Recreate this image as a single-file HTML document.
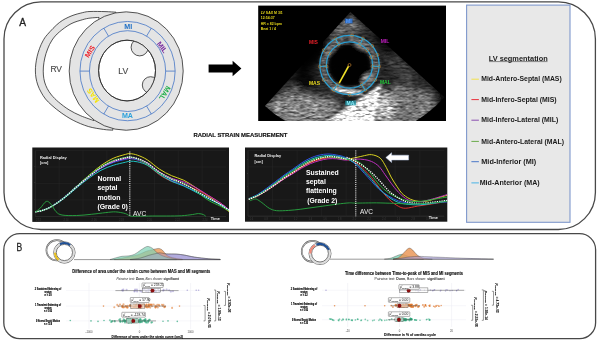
<!DOCTYPE html>
<html><head><meta charset="utf-8"><title>Figure</title>
<style>
html,body{margin:0;padding:0;background:#fff;}
body{width:597px;height:341px;overflow:hidden;font-family:"Liberation Sans",sans-serif;}
svg{display:block;}
svg text{font-family:"Liberation Sans",sans-serif;}
</style></head><body>
<svg width="597" height="341" viewBox="0 0 597 341">
<rect x="0" y="0" width="597" height="341" fill="#fff"/>
<rect x="4" y="1.9" width="591.4" height="227.6" rx="37" ry="37" fill="#fff" stroke="#484848" stroke-width="1.3"/>
<rect x="3.8" y="233.7" width="591.8" height="105.0" rx="16" ry="16" fill="#fff" stroke="#484848" stroke-width="1.3"/>
<text x="19.3" y="25.6" font-size="10.5" fill="#222" font-weight="normal" text-anchor="start" textLength="6.8" lengthAdjust="spacingAndGlyphs" stroke="#222" stroke-width="0.3">A</text>
<text x="16.4" y="250.8" font-size="11.0" fill="#222" font-weight="normal" text-anchor="start" textLength="5.7" lengthAdjust="spacingAndGlyphs" stroke="#222" stroke-width="0.3">B</text>
<path d="M116.00,12.20 C114.17,12.10 109.33,11.72 105.00,11.60 C100.67,11.48 93.71,11.33 90.00,11.50 C86.29,11.67 85.92,11.83 82.75,12.60 C79.58,13.37 74.91,14.43 71.00,16.10 C67.09,17.77 63.20,19.57 59.30,22.60 C55.40,25.63 50.32,31.27 47.60,34.30 C44.88,37.33 44.33,38.47 43.00,40.80 C41.67,43.13 40.57,45.73 39.60,48.30 C38.63,50.87 37.83,53.58 37.20,56.20 C36.57,58.82 36.10,61.53 35.80,64.00 C35.50,66.47 35.37,68.67 35.40,71.00 C35.43,73.33 35.60,75.67 36.00,78.00 C36.40,80.33 36.97,82.67 37.80,85.00 C38.63,87.33 39.72,89.67 41.00,92.00 C42.28,94.33 43.67,96.75 45.50,99.00 C47.33,101.25 49.38,103.20 52.00,105.50 C54.62,107.80 57.67,110.33 61.20,112.80 C64.73,115.27 68.68,118.02 73.20,120.30 C77.72,122.58 83.27,124.98 88.30,126.50 C93.33,128.02 99.32,128.78 103.40,129.40 C107.48,130.02 111.23,130.07 112.80,130.20 Z" fill="#e4e4e4" stroke="#2b2b2b" stroke-width="0.8"/>
<path d="M99.00,17.40 C97.50,17.52 92.71,17.73 90.00,18.10 C87.29,18.48 85.92,18.70 82.75,19.65 C79.58,20.60 74.91,21.74 71.00,23.80 C67.09,25.86 62.45,29.30 59.30,32.00 C56.15,34.70 54.05,37.17 52.10,40.00 C50.15,42.83 48.82,46.00 47.60,49.00 C46.38,52.00 45.50,55.00 44.80,58.00 C44.10,61.00 43.63,64.17 43.40,67.00 C43.17,69.83 43.20,72.50 43.40,75.00 C43.60,77.50 43.97,79.75 44.60,82.00 C45.23,84.25 46.05,86.33 47.20,88.50 C48.35,90.67 49.62,92.75 51.50,95.00 C53.38,97.25 55.58,99.53 58.50,102.00 C61.42,104.47 65.28,107.50 69.00,109.80 C72.72,112.10 76.63,114.00 80.80,115.80 C84.97,117.60 91.80,119.80 94.00,120.60 Z" fill="#fff" stroke="#2b2b2b" stroke-width="0.8"/>
<ellipse cx="126.2" cy="71.05" rx="57" ry="59.2" fill="#e4e4e4" stroke="#2b2b2b" stroke-width="0.8"/>
<ellipse cx="127.05" cy="70.55" rx="28.45" ry="30.35" fill="#fff" stroke="#2b2b2b" stroke-width="0.8"/>
<clipPath id="lvc"><ellipse cx="127.05" cy="70.55" rx="28.45" ry="30.35"/></clipPath>
<g clip-path="url(#lvc)"><circle cx="139.7" cy="47.3" r="8.6" fill="#e4e4e4" stroke="#2b2b2b" stroke-width="0.8"/><circle cx="150.6" cy="85.0" r="8.3" fill="#e4e4e4" stroke="#2b2b2b" stroke-width="0.8"/></g>
<ellipse cx="127.05" cy="70.55" rx="28.45" ry="30.35" fill="none" stroke="#2b2b2b" stroke-width="0.8"/>
<ellipse cx="127.55" cy="71.1" rx="47.6" ry="49.65" fill="none" stroke="#3b6fc4" stroke-width="0.75"/>
<ellipse cx="127.55" cy="71.1" rx="38.1" ry="40.4" fill="none" stroke="#3b6fc4" stroke-width="0.75"/>
<line x1="165.65" y1="71.10" x2="175.15" y2="71.10" stroke="#3b6fc4" stroke-width="0.75"/>
<line x1="146.60" y1="36.11" x2="151.35" y2="28.10" stroke="#3b6fc4" stroke-width="0.75"/>
<line x1="108.50" y1="36.11" x2="103.75" y2="28.10" stroke="#3b6fc4" stroke-width="0.75"/>
<line x1="89.45" y1="71.10" x2="79.95" y2="71.10" stroke="#3b6fc4" stroke-width="0.75"/>
<line x1="108.50" y1="106.09" x2="103.75" y2="114.10" stroke="#3b6fc4" stroke-width="0.75"/>
<line x1="146.60" y1="106.09" x2="151.35" y2="114.10" stroke="#3b6fc4" stroke-width="0.75"/>
<text transform="translate(128.3,26.9) rotate(0)" font-size="7.1" font-weight="bold" fill="#1f6fc5" text-anchor="middle" dominant-baseline="central">MI</text>
<text transform="translate(127.4,115.6) rotate(0)" font-size="7.1" font-weight="bold" fill="#2aa0dc" text-anchor="middle" dominant-baseline="central">MA</text>
<text transform="translate(90.3,51.8) rotate(-56)" font-size="7.1" font-weight="bold" fill="#ee1c25" text-anchor="middle" dominant-baseline="central">MIS</text>
<text transform="translate(161.8,47.6) rotate(52)" font-size="7.1" font-weight="bold" fill="#7a2fa0" text-anchor="middle" dominant-baseline="central">MIL</text>
<text transform="translate(164.4,92.8) rotate(122)" font-size="7.1" font-weight="bold" fill="#21b04b" text-anchor="middle" dominant-baseline="central">MAL</text>
<text transform="translate(93.4,95.2) rotate(-126)" font-size="7.1" font-weight="bold" fill="#f4e500" text-anchor="middle" dominant-baseline="central">MAS</text>
<text x="50.4" y="72.4" font-size="9.8" fill="#484848" font-weight="normal" text-anchor="start" textLength="11.6" lengthAdjust="spacingAndGlyphs" stroke="#484848" stroke-width="0.15">RV</text>
<text x="118.3" y="73.5" font-size="9.8" fill="#484848" font-weight="normal" text-anchor="start" textLength="9.9" lengthAdjust="spacingAndGlyphs" stroke="#484848" stroke-width="0.15">LV</text>
<path d="M208.6,64.6 H232.6 V60.7 L241.4,68.5 L232.6,76.3 V72.6 H208.6 Z" fill="#000"/>
<text x="240.5" y="137.2" font-size="6.0" fill="#111" font-weight="bold" text-anchor="middle" textLength="94" lengthAdjust="spacingAndGlyphs" stroke="#111" stroke-width="0.15">RADIAL STRAIN MEASUREMENT</text>
<rect x="466.6" y="5.1" width="103.4" height="217.2" fill="#e8e8e8" stroke="#7f98cc" stroke-width="1.1"/>
<text x="518.2" y="60.5" font-size="7.2" fill="#222" font-weight="bold" text-anchor="middle" textLength="59" lengthAdjust="spacingAndGlyphs" >LV segmentation</text>
<line x1="489" y1="61.6" x2="547.5" y2="61.6" stroke="#222" stroke-width="0.5"/>
<line x1="471.4" y1="79.2" x2="478.9" y2="79.2" stroke="#f2e14a" stroke-width="1.0"/>
<text x="481.2" y="81.3" font-size="6.6" fill="#1a1a1a" font-weight="bold" text-anchor="start" textLength="80.5" lengthAdjust="spacingAndGlyphs" >Mid-Antero-Septal (MAS)</text>
<line x1="471.4" y1="99.60000000000001" x2="478.9" y2="99.60000000000001" stroke="#e8323c" stroke-width="1.0"/>
<text x="481.2" y="101.7" font-size="6.6" fill="#1a1a1a" font-weight="bold" text-anchor="start" textLength="75.5" lengthAdjust="spacingAndGlyphs" >Mid-Infero-Septal (MIS)</text>
<line x1="471.4" y1="120.2" x2="478.9" y2="120.2" stroke="#8a4fb0" stroke-width="1.0"/>
<text x="481.3" y="122.3" font-size="6.6" fill="#1a1a1a" font-weight="bold" text-anchor="start" textLength="77" lengthAdjust="spacingAndGlyphs" >Mid-Infero-Lateral (MIL)</text>
<line x1="471.4" y1="141.4" x2="478.9" y2="141.4" stroke="#6aaa4a" stroke-width="1.0"/>
<text x="481.3" y="143.5" font-size="6.6" fill="#1a1a1a" font-weight="bold" text-anchor="start" textLength="82.8" lengthAdjust="spacingAndGlyphs" >Mid-Antero-Lateral (MAL)</text>
<line x1="471.4" y1="161.70000000000002" x2="478.9" y2="161.70000000000002" stroke="#4a78c8" stroke-width="1.0"/>
<text x="481.3" y="163.8" font-size="6.6" fill="#1a1a1a" font-weight="bold" text-anchor="start" textLength="55" lengthAdjust="spacingAndGlyphs" >Mid-Inferior (MI)</text>
<line x1="471.4" y1="182.9" x2="478.9" y2="182.9" stroke="#49b4e6" stroke-width="1.0"/>
<text x="479.7" y="185.0" font-size="6.6" fill="#1a1a1a" font-weight="bold" text-anchor="start" textLength="60" lengthAdjust="spacingAndGlyphs" >Mid-Anterior (MA)</text>
<rect x="258.2" y="5.6" width="187.8" height="115.4" fill="#000"/>
<defs>
<clipPath id="usrect"><rect x="258.2" y="5.6" width="187.8" height="115.4"/></clipPath>
<clipPath id="sector"><path d="M350.4,12.0 L264.9,105.9 A127,127 0 0 0 444.5,97.3 Z"/></clipPath>
<filter id="speckle" x="0" y="0" width="100%" height="100%" filterUnits="objectBoundingBox" color-interpolation-filters="sRGB">
<feTurbulence type="fractalNoise" baseFrequency="0.16 0.5" numOctaves="2" seed="11" result="n"/>
<feColorMatrix in="n" type="matrix" values="1.0 1.0 1.0 0 -1.0  1.0 1.0 1.0 0 -1.0  1.0 1.0 1.0 0 -1.0  0 0 0 0 1" result="g"/>
<feComposite in="SourceGraphic" in2="g" operator="arithmetic" k1="1.0" k2="0.5" k3="0" k4="0"/>
</filter>
<filter id="b2"><feGaussianBlur stdDeviation="1.6"/></filter>
<filter id="b3"><feGaussianBlur stdDeviation="3.5"/></filter>
<filter id="b1"><feGaussianBlur stdDeviation="0.9"/></filter>
</defs>
<g clip-path="url(#usrect)"><g clip-path="url(#sector)">
<g filter="url(#speckle)">
<rect x="258.2" y="5.6" width="187.8" height="115.4" fill="#262626"/>
<g filter="url(#b3)">
<ellipse cx="347" cy="27" rx="15" ry="8" fill="#707070" opacity="0.9"/>
<ellipse cx="335" cy="36" rx="5" ry="14" fill="#5a5a5a" opacity="0.8" transform="rotate(42 335 36)"/>
<path d="M262,106 L296,93 L332,98 L344,106 L322,124 L286,124 Z" fill="#8c8c8c" opacity="0.95"/>
<ellipse cx="283" cy="97" rx="20" ry="4" fill="#808080" opacity="0.7" transform="rotate(-35 283 97)"/>
<path d="M378,98 L396,84 L432,92 L438,124 L374,124 Z" fill="#787878" opacity="0.95"/>
<ellipse cx="402" cy="70" rx="18" ry="7" fill="#4a4a4a" opacity="0.7" transform="rotate(45 402 70)"/>
<ellipse cx="384" cy="108" rx="9" ry="16" fill="#d8d8d8" opacity="0.8"/>
<ellipse cx="313" cy="54" rx="10" ry="24" fill="#000" opacity="0.97" transform="rotate(40 313 54)"/>
<ellipse cx="304" cy="80" rx="13" ry="9" fill="#000" opacity="0.8"/>
<ellipse cx="386" cy="44" rx="7" ry="16" fill="#000" opacity="0.7" transform="rotate(-42 386 44)"/>
<ellipse cx="443" cy="104" rx="7" ry="22" fill="#000" opacity="0.85" transform="rotate(-25 443 104)"/>
<ellipse cx="350" cy="101" rx="16" ry="4" fill="#000" opacity="0.55" transform="rotate(-12 350 101)"/>
</g>
<g filter="url(#b2)">
<path d="M382,84 L346,108 L324,123 L374,123 L378,100 Z" fill="#fff" opacity="0.97"/>
<circle cx="349.5" cy="65" r="26.5" fill="none" stroke="#707070" stroke-width="6" opacity="0.7"/>
<circle cx="349.5" cy="65.5" r="21" fill="#000" opacity="0.97"/>
<ellipse cx="347" cy="91.5" rx="17" ry="2.4" fill="#f0f0f0" opacity="0.9" transform="rotate(10 347 91.5)"/>
<ellipse cx="367" cy="78" rx="7" ry="4" fill="#999" opacity="0.8" transform="rotate(-40 367 78)"/>
<ellipse cx="361" cy="46" rx="8" ry="3.5" fill="#888" opacity="0.7" transform="rotate(25 361 46)"/>
<ellipse cx="331" cy="50" rx="3" ry="9" fill="#777" opacity="0.6" transform="rotate(40 331 50)"/>
</g>
</g>
</g></g>
<circle cx="349.5" cy="65.0" r="29.7" fill="none" stroke="#2a9fd3" stroke-width="1.25"/>
<circle cx="349.5" cy="65.0" r="23.1" fill="none" stroke="#2a9fd3" stroke-width="1.25"/>
<line x1="359.99" y1="44.42" x2="362.98" y2="38.54" stroke="#2a9fd3" stroke-width="1.25"/>
<line x1="372.57" y1="66.21" x2="379.16" y2="66.55" stroke="#2a9fd3" stroke-width="1.25"/>
<line x1="361.74" y1="84.59" x2="365.24" y2="90.19" stroke="#2a9fd3" stroke-width="1.25"/>
<line x1="337.26" y1="84.59" x2="333.76" y2="90.19" stroke="#2a9fd3" stroke-width="1.25"/>
<line x1="326.43" y1="66.21" x2="319.84" y2="66.55" stroke="#2a9fd3" stroke-width="1.25"/>
<line x1="338.66" y1="44.60" x2="335.56" y2="38.78" stroke="#2a9fd3" stroke-width="1.25"/>
<circle cx="352.09" cy="35.41" r="1.45" fill="none" stroke="#d0903a" stroke-width="0.55"/>
<circle cx="362.98" cy="38.54" r="1.45" fill="none" stroke="#d0903a" stroke-width="0.55"/>
<circle cx="359.99" cy="44.42" r="1.45" fill="none" stroke="#d0903a" stroke-width="0.55"/>
<circle cx="372.25" cy="45.91" r="1.45" fill="none" stroke="#d0903a" stroke-width="0.55"/>
<circle cx="367.20" cy="50.15" r="1.45" fill="none" stroke="#d0903a" stroke-width="0.55"/>
<circle cx="377.41" cy="54.84" r="1.45" fill="none" stroke="#d0903a" stroke-width="0.55"/>
<circle cx="371.21" cy="57.10" r="1.45" fill="none" stroke="#d0903a" stroke-width="0.55"/>
<circle cx="379.16" cy="66.55" r="1.45" fill="none" stroke="#d0903a" stroke-width="0.55"/>
<circle cx="372.57" cy="66.21" r="1.45" fill="none" stroke="#d0903a" stroke-width="0.55"/>
<circle cx="375.22" cy="79.85" r="1.45" fill="none" stroke="#d0903a" stroke-width="0.55"/>
<circle cx="365.24" cy="90.19" r="1.45" fill="none" stroke="#d0903a" stroke-width="0.55"/>
<circle cx="361.74" cy="84.59" r="1.45" fill="none" stroke="#d0903a" stroke-width="0.55"/>
<circle cx="349.50" cy="94.70" r="1.45" fill="none" stroke="#d0903a" stroke-width="0.55"/>
<circle cx="333.76" cy="90.19" r="1.45" fill="none" stroke="#d0903a" stroke-width="0.55"/>
<circle cx="337.26" cy="84.59" r="1.45" fill="none" stroke="#d0903a" stroke-width="0.55"/>
<circle cx="323.78" cy="79.85" r="1.45" fill="none" stroke="#d0903a" stroke-width="0.55"/>
<circle cx="319.84" cy="66.55" r="1.45" fill="none" stroke="#d0903a" stroke-width="0.55"/>
<circle cx="326.43" cy="66.21" r="1.45" fill="none" stroke="#d0903a" stroke-width="0.55"/>
<circle cx="323.78" cy="50.15" r="1.45" fill="none" stroke="#d0903a" stroke-width="0.55"/>
<circle cx="329.49" cy="53.45" r="1.45" fill="none" stroke="#d0903a" stroke-width="0.55"/>
<circle cx="335.56" cy="38.78" r="1.45" fill="none" stroke="#d0903a" stroke-width="0.55"/>
<circle cx="338.66" cy="44.60" r="1.45" fill="none" stroke="#d0903a" stroke-width="0.55"/>
<line x1="349.2" y1="65.0" x2="339.2" y2="83.2" stroke="#efe02a" stroke-width="1.6"/>
<circle cx="349.5" cy="65.0" r="1.5" fill="#000" stroke="#d08a30" stroke-width="0.6"/>
<text x="313.5" y="44.2" font-size="5.0" fill="#e8202a" font-weight="bold" text-anchor="middle" >MIS</text>
<text x="385.0" y="42.6" font-size="5.0" fill="#c31fc3" font-weight="bold" text-anchor="middle" >MIL</text>
<text x="314.5" y="85.0" font-size="5.0" fill="#e8d820" font-weight="bold" text-anchor="middle" >MAS</text>
<text x="385.3" y="83.5" font-size="5.0" fill="#25c43a" font-weight="bold" text-anchor="middle" >MAL</text>
<rect x="345.2" y="100.6" width="10.8" height="4.8" fill="#1a8fa0" opacity="0.75"/>
<text x="350.5" y="104.8" font-size="5.0" fill="#8ff0ff" font-weight="bold" text-anchor="middle" >MA</text>
<rect x="345.0" y="18.6" width="7.6" height="4.8" fill="#1a5fc0" opacity="0.8"/>
<text x="348.8" y="22.8" font-size="5.0" fill="#5aa0ff" font-weight="bold" text-anchor="middle" >MI</text>
<text x="260.7" y="13.9" font-size="3.5" fill="#e6d81a" font-weight="bold" text-anchor="start" >LV SAX M 3/1</text>
<text x="260.7" y="19.25" font-size="3.5" fill="#e6d81a" font-weight="bold" text-anchor="start" >12:54:37</text>
<text x="260.7" y="24.6" font-size="3.5" fill="#e6d81a" font-weight="bold" text-anchor="start" >HR = 82 bpm</text>
<text x="260.7" y="29.949999999999996" font-size="3.5" fill="#e6d81a" font-weight="bold" text-anchor="start" >Beat 1 / 4</text>
<rect x="32.3" y="147.5" width="196.7" height="74.4" fill="#181818"/>
<line x1="59.1" y1="150.5" x2="59.1" y2="216.4" stroke="#2c2c2c" stroke-width="0.4"/>
<line x1="83.0" y1="150.5" x2="83.0" y2="216.4" stroke="#2c2c2c" stroke-width="0.4"/>
<line x1="106.8" y1="150.5" x2="106.8" y2="216.4" stroke="#2c2c2c" stroke-width="0.4"/>
<line x1="130.6" y1="150.5" x2="130.6" y2="216.4" stroke="#2c2c2c" stroke-width="0.4"/>
<line x1="154.5" y1="150.5" x2="154.5" y2="216.4" stroke="#2c2c2c" stroke-width="0.4"/>
<line x1="178.3" y1="150.5" x2="178.3" y2="216.4" stroke="#2c2c2c" stroke-width="0.4"/>
<line x1="202.2" y1="150.5" x2="202.2" y2="216.4" stroke="#2c2c2c" stroke-width="0.4"/>
<line x1="35.3" y1="150.5" x2="226.0" y2="150.5" stroke="#2c2c2c" stroke-width="0.4"/>
<line x1="35.3" y1="167.0" x2="226.0" y2="167.0" stroke="#2c2c2c" stroke-width="0.4"/>
<line x1="35.3" y1="183.4" x2="226.0" y2="183.4" stroke="#2c2c2c" stroke-width="0.4"/>
<line x1="35.3" y1="199.9" x2="226.0" y2="199.9" stroke="#2c2c2c" stroke-width="0.4"/>
<line x1="35.3" y1="216.4" x2="226.0" y2="216.4" stroke="#2c2c2c" stroke-width="0.4"/>
<line x1="35.3" y1="216.4" x2="226.0" y2="216.4" stroke="#3a3a3a" stroke-width="0.5"/>
<line x1="35.3" y1="150.5" x2="35.3" y2="216.4" stroke="#3a3a3a" stroke-width="0.5"/>
<path d="M35.30,211.86 C36.52,211.62 39.76,211.37 42.60,210.39 C45.44,209.41 48.69,208.15 52.34,205.97 C55.99,203.79 60.45,200.59 64.51,197.31 C68.56,194.02 72.62,189.91 76.67,186.26 C80.73,182.61 84.79,178.86 88.84,175.41 C92.90,171.95 96.95,168.37 101.01,165.53 C105.07,162.68 109.12,160.18 113.18,158.33 C117.24,156.48 122.51,155.21 125.35,154.43 C128.19,153.65 128.17,153.53 130.21,153.66 C132.26,153.79 134.75,154.19 137.60,155.22 C140.46,156.24 143.69,157.51 147.34,159.84 C150.99,162.17 155.45,166.54 159.51,169.18 C163.56,171.83 167.62,173.87 171.67,175.72 C175.73,177.56 179.79,178.25 183.84,180.26 C187.90,182.26 191.95,185.08 196.01,187.75 C200.07,190.42 204.12,193.40 208.18,196.28 C212.24,199.16 216.90,202.47 220.35,205.02 C223.80,207.57 227.45,210.48 228.87,211.57" fill="none" stroke="#d8d020" stroke-width="1.0" opacity="1" stroke-linecap="butt"/>
<path d="M35.30,211.87 C36.52,211.63 39.76,211.39 42.60,210.41 C45.44,209.44 48.69,208.18 52.34,206.03 C55.99,203.89 60.45,200.72 64.51,197.53 C68.56,194.33 72.62,190.32 76.67,186.86 C80.73,183.40 84.79,179.91 88.84,176.77 C92.90,173.63 96.95,170.48 101.01,168.03 C105.07,165.57 109.12,163.56 113.18,162.05 C117.24,160.53 122.51,159.55 125.35,158.93 C128.19,158.31 128.17,158.13 130.21,158.31 C132.26,158.48 134.75,158.89 137.60,159.99 C140.46,161.08 143.69,162.41 147.34,164.88 C150.99,167.34 155.45,172.05 159.51,174.79 C163.56,177.53 167.62,179.68 171.67,181.31 C175.73,182.95 179.79,183.23 183.84,184.58 C187.90,185.93 191.95,187.62 196.01,189.42 C200.07,191.23 204.12,193.15 208.18,195.41 C212.24,197.67 216.90,200.62 220.35,203.01 C223.80,205.40 227.45,208.61 228.87,209.73" fill="none" stroke="#e03030" stroke-width="1.0" opacity="1" stroke-linecap="butt"/>
<path d="M35.30,211.87 C36.52,211.63 39.76,211.39 42.60,210.41 C45.44,209.44 48.69,208.18 52.34,206.04 C55.99,203.90 60.45,200.74 64.51,197.55 C68.56,194.36 72.62,190.37 76.67,186.92 C80.73,183.48 84.79,180.01 88.84,176.87 C92.90,173.72 96.95,170.57 101.01,168.06 C105.07,165.56 109.12,163.46 113.18,161.85 C117.24,160.24 122.51,159.09 125.35,158.38 C128.19,157.67 128.17,157.49 130.21,157.58 C132.26,157.67 134.75,157.99 137.60,158.91 C140.46,159.84 143.69,160.92 147.34,163.12 C150.99,165.32 155.45,169.57 159.51,172.11 C163.56,174.64 167.62,176.71 171.67,178.34 C175.73,179.97 179.79,180.30 183.84,181.87 C187.90,183.43 191.95,185.50 196.01,187.73 C200.07,189.97 204.12,192.73 208.18,195.26 C212.24,197.80 216.90,200.59 220.35,202.96 C223.80,205.34 227.45,208.42 228.87,209.51" fill="none" stroke="#c030c0" stroke-width="1.0" opacity="1" stroke-linecap="butt"/>
<path d="M35.30,211.81 C36.52,211.55 39.76,211.29 42.60,210.26 C45.44,209.24 48.69,207.92 52.34,205.69 C55.99,203.45 60.45,200.13 64.51,196.87 C68.56,193.61 72.62,189.55 76.67,186.13 C80.73,182.71 84.79,179.37 88.84,176.37 C92.90,173.37 96.95,170.46 101.01,168.15 C105.07,165.85 109.12,164.00 113.18,162.54 C117.24,161.09 122.51,160.08 125.35,159.43 C128.19,158.79 128.17,158.58 130.21,158.67 C132.26,158.75 134.75,159.05 137.60,159.93 C140.46,160.82 143.69,161.78 147.34,163.97 C150.99,166.17 155.45,170.36 159.51,173.10 C163.56,175.84 167.62,178.35 171.67,180.41 C175.73,182.47 179.79,183.56 183.84,185.47 C187.90,187.38 191.95,189.72 196.01,191.86 C200.07,194.01 204.12,196.25 208.18,198.35 C212.24,200.45 216.90,202.49 220.35,204.47 C223.80,206.44 227.45,209.25 228.87,210.20" fill="none" stroke="#3050e0" stroke-width="1.0" opacity="1" stroke-linecap="butt"/>
<path d="M35.30,211.91 C36.52,211.67 39.76,211.44 42.60,210.50 C45.44,209.56 48.69,208.34 52.34,206.27 C55.99,204.20 60.45,201.17 64.51,198.09 C68.56,195.01 72.62,191.13 76.67,187.80 C80.73,184.48 84.79,181.08 88.84,178.16 C92.90,175.23 96.95,172.41 101.01,170.27 C105.07,168.13 109.12,166.66 113.18,165.32 C117.24,163.98 122.51,162.94 125.35,162.26 C128.19,161.57 128.17,161.27 130.21,161.21 C132.26,161.15 134.75,161.21 137.60,161.89 C140.46,162.57 143.69,163.23 147.34,165.27 C150.99,167.32 155.45,171.48 159.51,174.16 C163.56,176.83 167.62,179.35 171.67,181.33 C175.73,183.31 179.79,184.20 183.84,186.01 C187.90,187.82 191.95,190.09 196.01,192.19 C200.07,194.29 204.12,196.56 208.18,198.63 C212.24,200.70 216.90,202.69 220.35,204.63 C223.80,206.57 227.45,209.34 228.87,210.28" fill="none" stroke="#20c0c0" stroke-width="1.0" opacity="1" stroke-linecap="butt"/>
<path d="M35.30,211.86 C36.52,211.62 39.76,211.37 42.60,210.39 C45.44,209.40 48.69,208.14 52.34,205.95 C55.99,203.77 60.45,200.55 64.51,197.27 C68.56,193.99 72.62,189.85 76.67,186.26 C80.73,182.67 84.79,178.99 88.84,175.71 C92.90,172.43 96.95,169.13 101.01,166.58 C105.07,164.03 109.12,161.95 113.18,160.43 C117.24,158.91 122.51,158.02 125.35,157.45 C128.19,156.88 128.17,156.73 130.21,157.00 C132.26,157.27 134.75,157.87 137.60,159.07 C140.46,160.28 143.69,161.89 147.34,164.23 C150.99,166.57 155.45,170.63 159.51,173.12 C163.56,175.61 167.62,177.43 171.67,179.19 C175.73,180.95 179.79,181.70 183.84,183.70 C187.90,185.69 191.95,188.42 196.01,191.16 C200.07,193.91 204.12,197.67 208.18,200.17 C212.24,202.67 216.90,204.38 220.35,206.15 C223.80,207.92 227.45,210.01 228.87,210.78" fill="none" stroke="#30b040" stroke-width="1.0" opacity="1" stroke-linecap="butt"/>
<path d="M35.30,211.87 C36.52,211.63 39.76,211.39 42.60,210.41 C45.44,209.44 48.69,208.18 52.34,206.03 C55.99,203.88 60.45,200.72 64.51,197.51 C68.56,194.31 72.62,190.29 76.67,186.81 C80.73,183.32 84.79,179.79 88.84,176.58 C92.90,173.38 96.95,170.14 101.01,167.58 C105.07,165.02 109.12,162.88 113.18,161.25 C117.24,159.63 122.51,158.54 125.35,157.85 C128.19,157.16 128.17,156.99 130.21,157.12 C132.26,157.24 134.75,157.60 137.60,158.58 C140.46,159.55 143.69,160.68 147.34,162.96 C150.99,165.23 155.45,169.53 159.51,172.20 C163.56,174.88 167.62,177.11 171.67,179.02 C175.73,180.92 179.79,181.74 183.84,183.64 C187.90,185.55 191.95,188.10 196.01,190.46 C200.07,192.81 204.12,195.45 208.18,197.76 C212.24,200.07 216.90,202.26 220.35,204.33 C223.80,206.40 227.45,209.20 228.87,210.17" fill="none" stroke="#ffffff" stroke-width="1.35" stroke-dasharray="1.2 1.1" opacity="1" stroke-linecap="butt"/>
<path d="M35.30,211.87 C36.11,211.26 38.34,209.97 40.17,208.22 C41.99,206.48 44.43,202.06 46.25,201.41 C48.08,200.76 49.50,202.63 51.12,204.33 C52.74,206.03 54.16,209.85 55.99,211.63 C57.81,213.41 58.62,214.39 62.07,215.04 C65.52,215.69 71.81,215.65 76.67,215.52 C81.54,215.40 86.41,214.79 91.28,214.31 C96.14,213.82 101.82,213.01 105.88,212.60 C109.93,212.20 112.37,211.71 115.61,211.87 C118.86,212.04 122.91,212.89 125.35,213.58 C127.78,214.27 128.17,215.56 130.21,216.01 C132.26,216.46 133.94,216.25 137.60,216.25 C141.27,216.25 147.34,216.05 152.20,216.01 C157.07,215.97 161.94,216.05 166.81,216.01 C171.67,215.97 177.15,216.01 181.41,215.77 C185.67,215.52 189.52,214.92 192.36,214.55 C195.20,214.19 196.62,213.58 198.44,213.58 C200.27,213.58 202.09,214.10 203.31,214.55 C204.53,215.00 205.34,215.97 205.75,216.25" fill="none" stroke="#28a040" stroke-width="0.95" opacity="1" stroke-linecap="butt"/>
<line x1="129.8" y1="151.5" x2="129.8" y2="216.3" stroke="#fff" stroke-width="1.0" stroke-dasharray="1.1 1.0"/>
<text x="133.0" y="216.2" font-size="7.2" fill="#f0f0f0" font-weight="normal" text-anchor="start" textLength="13.2" lengthAdjust="spacingAndGlyphs" >AVC</text>
<text x="97.4" y="180.8" font-size="6.95" fill="#fff" font-weight="bold" text-anchor="start" >Normal</text>
<text x="97.4" y="190.15" font-size="6.95" fill="#fff" font-weight="bold" text-anchor="start" >septal</text>
<text x="97.4" y="199.5" font-size="6.95" fill="#fff" font-weight="bold" text-anchor="start" >motion</text>
<text x="97.4" y="208.85000000000002" font-size="6.95" fill="#fff" font-weight="bold" text-anchor="start" >(Grade 0)</text>
<text x="40.0" y="158.6" font-size="3.9" fill="#eee" font-weight="bold" text-anchor="start" >Radial Display</text>
<text x="40.0" y="163.8" font-size="3.9" fill="#eee" font-weight="bold" text-anchor="start" >[cm]</text>
<text x="210.8" y="219.6" font-size="3.9" fill="#eee" font-weight="bold" text-anchor="start" >Time</text>
<rect x="245.0" y="147.5" width="202.3" height="74.2" fill="#181818"/>
<line x1="272.5" y1="150.5" x2="272.5" y2="216.2" stroke="#2c2c2c" stroke-width="0.4"/>
<line x1="297.1" y1="150.5" x2="297.1" y2="216.2" stroke="#2c2c2c" stroke-width="0.4"/>
<line x1="321.6" y1="150.5" x2="321.6" y2="216.2" stroke="#2c2c2c" stroke-width="0.4"/>
<line x1="346.1" y1="150.5" x2="346.1" y2="216.2" stroke="#2c2c2c" stroke-width="0.4"/>
<line x1="370.7" y1="150.5" x2="370.7" y2="216.2" stroke="#2c2c2c" stroke-width="0.4"/>
<line x1="395.2" y1="150.5" x2="395.2" y2="216.2" stroke="#2c2c2c" stroke-width="0.4"/>
<line x1="419.8" y1="150.5" x2="419.8" y2="216.2" stroke="#2c2c2c" stroke-width="0.4"/>
<line x1="248.0" y1="150.5" x2="444.3" y2="150.5" stroke="#2c2c2c" stroke-width="0.4"/>
<line x1="248.0" y1="166.9" x2="444.3" y2="166.9" stroke="#2c2c2c" stroke-width="0.4"/>
<line x1="248.0" y1="183.3" x2="444.3" y2="183.3" stroke="#2c2c2c" stroke-width="0.4"/>
<line x1="248.0" y1="199.8" x2="444.3" y2="199.8" stroke="#2c2c2c" stroke-width="0.4"/>
<line x1="248.0" y1="216.2" x2="444.3" y2="216.2" stroke="#2c2c2c" stroke-width="0.4"/>
<line x1="248.0" y1="216.2" x2="444.3" y2="216.2" stroke="#3a3a3a" stroke-width="0.5"/>
<line x1="248.0" y1="150.5" x2="248.0" y2="216.2" stroke="#3a3a3a" stroke-width="0.5"/>
<path d="M248.79,199.30 C250.26,198.72 254.66,197.27 257.59,195.84 C260.52,194.41 263.45,192.53 266.38,190.71 C269.31,188.90 272.24,186.94 275.17,184.95 C278.11,182.96 281.04,180.75 283.97,178.80 C286.90,176.84 289.83,175.15 292.76,173.23 C295.69,171.30 298.62,169.06 301.55,167.25 C304.49,165.44 307.42,163.70 310.35,162.37 C313.28,161.04 316.21,160.08 319.14,159.27 C322.07,158.46 325.00,157.77 327.94,157.52 C330.87,157.26 333.80,157.45 336.73,157.76 C339.66,158.06 342.34,159.36 345.52,159.33 C348.70,159.30 352.68,158.21 355.82,157.60 C358.95,156.99 361.70,156.14 364.34,155.66 C366.97,155.17 369.00,154.28 371.64,154.68 C374.27,155.09 377.72,155.98 380.16,158.09 C382.59,160.20 384.41,164.17 386.24,167.34 C388.07,170.50 389.28,173.83 391.11,177.07 C392.93,180.32 395.16,183.89 397.19,186.81 C399.22,189.73 400.64,192.36 403.28,194.59 C405.91,196.82 409.36,199.06 413.01,200.19 C416.66,201.33 421.12,201.77 425.18,201.41 C429.24,201.04 433.70,199.02 437.35,198.00 C441.00,196.99 445.46,195.77 447.08,195.32" fill="none" stroke="#d8d020" stroke-width="1.0" opacity="1" stroke-linecap="butt"/>
<path d="M248.79,199.31 C250.26,198.74 254.66,197.29 257.59,195.85 C260.52,194.42 263.45,192.52 266.38,190.70 C269.31,188.88 272.24,186.89 275.17,184.93 C278.11,182.97 281.04,180.80 283.97,178.94 C286.90,177.07 289.83,175.53 292.76,173.75 C295.69,171.96 298.62,169.91 301.55,168.23 C304.49,166.56 307.42,164.94 310.35,163.68 C313.28,162.42 316.21,161.49 319.14,160.68 C322.07,159.86 325.00,159.12 327.94,158.81 C330.87,158.50 333.80,158.60 336.73,158.82 C339.66,159.04 342.34,160.08 345.52,160.12 C348.70,160.16 352.68,159.16 355.82,159.06 C358.95,158.97 361.70,159.14 364.34,159.55 C366.97,159.95 369.20,160.36 371.64,161.50 C374.07,162.63 376.71,164.17 378.94,166.36 C381.17,168.55 383.00,171.84 385.02,174.64 C387.05,177.44 388.88,180.24 391.11,183.16 C393.34,186.08 395.57,189.36 398.41,192.16 C401.25,194.96 404.49,198.37 408.14,199.95 C411.79,201.53 416.26,201.81 420.31,201.65 C424.37,201.49 428.02,200.15 432.48,198.97 C436.94,197.80 444.65,195.32 447.08,194.59" fill="none" stroke="#c030c0" stroke-width="1.0" opacity="1" stroke-linecap="butt"/>
<path d="M248.79,199.22 C250.26,198.61 254.66,197.09 257.59,195.56 C260.52,194.03 263.45,191.99 266.38,190.05 C269.31,188.11 272.24,185.97 275.17,183.92 C278.11,181.87 281.04,179.64 283.97,177.75 C286.90,175.86 289.83,174.36 292.76,172.59 C295.69,170.82 298.62,168.81 301.55,167.13 C304.49,165.46 307.42,163.82 310.35,162.54 C313.28,161.26 316.21,160.27 319.14,159.44 C322.07,158.61 325.00,157.84 327.94,157.55 C330.87,157.25 333.80,157.39 336.73,157.66 C339.66,157.93 342.34,158.38 345.52,159.18 C348.70,159.98 352.68,160.70 355.82,162.47 C358.95,164.23 361.70,167.26 364.34,169.77 C366.97,172.29 369.20,174.64 371.64,177.56 C374.07,180.48 376.10,183.72 378.94,187.29 C381.78,190.86 385.43,195.81 388.67,198.97 C391.92,202.14 395.57,204.73 398.41,206.28 C401.25,207.82 402.46,208.26 405.71,208.22 C408.95,208.18 413.42,206.76 417.88,206.03 C422.34,205.30 427.61,204.61 432.48,203.84 C437.35,203.07 444.65,201.81 447.08,201.41" fill="none" stroke="#e03030" stroke-width="1.0" opacity="1" stroke-linecap="butt"/>
<path d="M248.79,198.64 C250.26,197.94 254.66,196.16 257.59,194.46 C260.52,192.76 263.45,190.53 266.38,188.43 C269.31,186.33 272.24,184.08 275.17,181.86 C278.11,179.65 281.04,177.26 283.97,175.15 C286.90,173.04 289.83,171.23 292.76,169.21 C295.69,167.18 298.62,164.85 301.55,162.99 C304.49,161.12 307.42,159.34 310.35,158.04 C313.28,156.74 316.21,155.85 319.14,155.17 C322.07,154.49 325.00,154.01 327.94,153.98 C330.87,153.96 333.80,154.46 336.73,155.04 C339.66,155.62 342.34,155.91 345.52,157.47 C348.70,159.03 352.68,161.76 355.82,164.42 C358.95,167.07 361.70,170.58 364.34,173.42 C366.97,176.26 369.20,178.82 371.64,181.45 C374.07,184.09 376.10,186.81 378.94,189.24 C381.78,191.67 385.43,194.11 388.67,196.05 C391.92,198.00 395.16,199.75 398.41,200.92 C401.65,202.10 404.49,202.63 408.14,203.11 C411.79,203.60 416.26,203.84 420.31,203.84 C424.37,203.84 428.02,203.44 432.48,203.11 C436.94,202.79 444.65,202.10 447.08,201.90" fill="none" stroke="#3050e0" stroke-width="1.0" opacity="1" stroke-linecap="butt"/>
<path d="M248.79,198.92 C250.26,198.29 254.66,196.70 257.59,195.13 C260.52,193.55 263.45,191.49 266.38,189.48 C269.31,187.47 272.24,185.26 275.17,183.07 C278.11,180.88 281.04,178.44 283.97,176.33 C286.90,174.23 289.83,172.42 292.76,170.42 C295.69,168.43 298.62,166.17 301.55,164.37 C304.49,162.57 307.42,160.87 310.35,159.60 C313.28,158.33 316.21,157.46 319.14,156.77 C322.07,156.08 325.00,155.53 327.94,155.44 C330.87,155.34 333.80,155.73 336.73,156.21 C339.66,156.68 342.34,157.10 345.52,158.30 C348.70,159.51 352.68,161.21 355.82,163.44 C358.95,165.68 361.70,169.04 364.34,171.72 C366.97,174.39 369.20,176.75 371.64,179.51 C374.07,182.26 376.10,185.35 378.94,188.27 C381.78,191.19 385.43,194.68 388.67,197.03 C391.92,199.38 395.16,201.17 398.41,202.38 C401.65,203.60 404.49,203.92 408.14,204.33 C411.79,204.73 416.26,204.98 420.31,204.82 C424.37,204.65 428.02,204.00 432.48,203.36 C436.94,202.71 444.65,201.33 447.08,200.92" fill="none" stroke="#20c0c0" stroke-width="1.0" opacity="1" stroke-linecap="butt"/>
<path d="M248.79,199.07 C250.26,198.45 254.66,196.91 257.59,195.38 C260.52,193.85 263.45,191.83 266.38,189.87 C269.31,187.91 272.24,185.77 275.17,183.63 C278.11,181.50 281.04,179.13 283.97,177.09 C286.90,175.04 289.83,173.30 292.76,171.35 C295.69,169.40 298.62,167.19 301.55,165.41 C304.49,163.63 307.42,161.92 310.35,160.67 C313.28,159.42 316.21,158.53 319.14,157.91 C322.07,157.28 325.00,156.95 327.94,156.93 C330.87,156.91 333.80,157.39 336.73,157.76 C339.66,158.13 342.34,158.68 345.52,159.14 C348.70,159.60 352.68,159.32 355.82,160.52 C358.95,161.73 361.70,164.01 364.34,166.36 C366.97,168.72 369.20,171.64 371.64,174.64 C374.07,177.64 376.10,181.33 378.94,184.37 C381.78,187.41 385.43,190.66 388.67,192.89 C391.92,195.12 395.16,196.42 398.41,197.76 C401.65,199.10 404.49,200.31 408.14,200.92 C411.79,201.53 416.26,201.65 420.31,201.41 C424.37,201.17 428.02,200.19 432.48,199.46 C436.94,198.73 444.65,197.43 447.08,197.03" fill="none" stroke="#30b040" stroke-width="1.0" opacity="1" stroke-linecap="butt"/>
<path d="M248.79,199.28 C250.26,198.69 254.66,197.23 257.59,195.76 C260.52,194.30 263.45,192.36 266.38,190.49 C269.31,188.61 272.24,186.56 275.17,184.51 C278.11,182.45 281.04,180.17 283.97,178.17 C286.90,176.18 289.83,174.48 292.76,172.55 C295.69,170.61 298.62,168.38 301.55,166.57 C304.49,164.75 307.42,162.99 310.35,161.64 C313.28,160.29 316.21,159.30 319.14,158.48 C322.07,157.66 325.00,156.95 327.94,156.72 C330.87,156.48 333.80,156.72 336.73,157.07 C339.66,157.42 343.76,158.74 345.52,158.83 C347.28,158.92 345.58,157.16 347.30,157.60 C349.02,158.05 352.98,159.95 355.82,161.50 C358.66,163.04 361.70,164.98 364.34,166.85 C366.97,168.72 369.20,170.50 371.64,172.69 C374.07,174.88 376.10,176.99 378.94,179.99 C381.78,182.99 385.43,187.70 388.67,190.70 C391.92,193.70 395.16,196.09 398.41,198.00 C401.65,199.91 404.49,201.25 408.14,202.14 C411.79,203.03 415.44,203.44 420.31,203.36 C425.18,203.27 432.89,202.14 437.35,201.65 C441.81,201.17 445.46,200.64 447.08,200.43" fill="none" stroke="#ffffff" stroke-width="1.35" stroke-dasharray="1.2 1.1" opacity="1" stroke-linecap="butt"/>
<path d="M249.73,200.92 C250.34,200.68 252.25,199.75 253.39,199.46 C254.52,199.18 255.13,198.69 256.55,199.22 C257.97,199.75 259.79,201.12 261.90,202.63 C264.01,204.13 266.77,206.88 269.20,208.22 C271.64,209.56 273.26,210.29 276.51,210.66 C279.75,211.02 284.62,210.66 288.67,210.41 C292.73,210.17 296.79,209.68 300.84,209.20 C304.90,208.71 308.95,208.06 313.01,207.49 C317.07,206.92 321.12,206.36 325.18,205.79 C329.24,205.22 333.29,204.57 337.35,204.09 C341.40,203.60 346.44,203.03 349.52,202.87 C352.59,202.71 351.32,203.11 355.82,203.11 C360.32,203.11 370.22,202.83 376.51,202.87 C382.79,202.91 387.46,203.19 393.54,203.36 C399.63,203.52 406.52,203.92 413.01,203.84 C419.50,203.76 426.80,203.27 432.48,202.87 C438.16,202.46 444.65,201.65 447.08,201.41" fill="none" stroke="#28a040" stroke-width="0.95" opacity="1" stroke-linecap="butt"/>
<line x1="355.8" y1="150.4" x2="355.8" y2="216.3" stroke="#fff" stroke-width="1.0" stroke-dasharray="1.1 1.0"/>
<text x="360.0" y="214.2" font-size="7.2" fill="#f0f0f0" font-weight="normal" text-anchor="start" textLength="13.0" lengthAdjust="spacingAndGlyphs" >AVC</text>
<text x="306.0" y="174.8" font-size="6.85" fill="#fff" font-weight="bold" text-anchor="start" >Sustained</text>
<text x="306.0" y="184.05" font-size="6.85" fill="#fff" font-weight="bold" text-anchor="start" >septal</text>
<text x="306.0" y="193.3" font-size="6.85" fill="#fff" font-weight="bold" text-anchor="start" >flattening</text>
<text x="307.2" y="202.55" font-size="6.85" fill="#fff" font-weight="bold" text-anchor="start" >(Grade 2)</text>
<text x="254.5" y="157.4" font-size="3.9" fill="#eee" font-weight="bold" text-anchor="start" >Radial Display</text>
<text x="254.5" y="162.8" font-size="3.9" fill="#eee" font-weight="bold" text-anchor="start" >[cm]</text>
<text x="428.8" y="219.4" font-size="3.9" fill="#eee" font-weight="bold" text-anchor="start" >Time</text>
<path d="M385.8,157.6 L391.6,152.7 V155.2 H408.6 V160.0 H391.6 V162.5 Z" fill="#fff" stroke="#b8c8e8" stroke-width="0.5"/>
<text x="38.5" y="220.6" font-size="2.7" fill="#3c3c3c" font-weight="normal" text-anchor="middle" >2.12</text>
<text x="66" y="220.6" font-size="2.7" fill="#3c3c3c" font-weight="normal" text-anchor="middle" >2.14</text>
<text x="94.2" y="220.6" font-size="2.7" fill="#3c3c3c" font-weight="normal" text-anchor="middle" >2.16</text>
<text x="121.5" y="220.6" font-size="2.7" fill="#3c3c3c" font-weight="normal" text-anchor="middle" >2.18</text>
<text x="149.5" y="220.6" font-size="2.7" fill="#3c3c3c" font-weight="normal" text-anchor="middle" >2.20</text>
<text x="177.5" y="220.6" font-size="2.7" fill="#3c3c3c" font-weight="normal" text-anchor="middle" >2.22</text>
<text x="205" y="220.6" font-size="2.7" fill="#3c3c3c" font-weight="normal" text-anchor="middle" >2.24</text>
<text x="34.6" y="166.5" font-size="2.5" fill="#3c3c3c" font-weight="normal" text-anchor="middle" >3</text>
<text x="34.6" y="183" font-size="2.5" fill="#3c3c3c" font-weight="normal" text-anchor="middle" >2</text>
<text x="34.6" y="199.5" font-size="2.5" fill="#3c3c3c" font-weight="normal" text-anchor="middle" >1</text>
<text x="251.5" y="220.4" font-size="2.7" fill="#3c3c3c" font-weight="normal" text-anchor="middle" >0.6</text>
<text x="266.2" y="220.4" font-size="2.7" fill="#3c3c3c" font-weight="normal" text-anchor="middle" >0.8</text>
<text x="280.9" y="220.4" font-size="2.7" fill="#3c3c3c" font-weight="normal" text-anchor="middle" >1.0</text>
<text x="295.6" y="220.4" font-size="2.7" fill="#3c3c3c" font-weight="normal" text-anchor="middle" >1.2</text>
<text x="310.3" y="220.4" font-size="2.7" fill="#3c3c3c" font-weight="normal" text-anchor="middle" >1.4</text>
<text x="325.0" y="220.4" font-size="2.7" fill="#3c3c3c" font-weight="normal" text-anchor="middle" >1.6</text>
<text x="339.7" y="220.4" font-size="2.7" fill="#3c3c3c" font-weight="normal" text-anchor="middle" >1.8</text>
<text x="354.4" y="220.4" font-size="2.7" fill="#3c3c3c" font-weight="normal" text-anchor="middle" >2.0</text>
<text x="369.1" y="220.4" font-size="2.7" fill="#3c3c3c" font-weight="normal" text-anchor="middle" >2.2</text>
<text x="383.79999999999995" y="220.4" font-size="2.7" fill="#3c3c3c" font-weight="normal" text-anchor="middle" >2.4</text>
<text x="398.5" y="220.4" font-size="2.7" fill="#3c3c3c" font-weight="normal" text-anchor="middle" >2.6</text>
<text x="413.2" y="220.4" font-size="2.7" fill="#3c3c3c" font-weight="normal" text-anchor="middle" >2.8</text>
<text x="427.9" y="220.4" font-size="2.7" fill="#3c3c3c" font-weight="normal" text-anchor="middle" >3.0</text>
<text x="247.4" y="160" font-size="2.5" fill="#3c3c3c" font-weight="normal" text-anchor="middle" >3</text>
<text x="247.4" y="173.5" font-size="2.5" fill="#3c3c3c" font-weight="normal" text-anchor="middle" >2</text>
<text x="247.4" y="187" font-size="2.5" fill="#3c3c3c" font-weight="normal" text-anchor="middle" >1</text>
<text x="247.4" y="200.5" font-size="2.5" fill="#3c3c3c" font-weight="normal" text-anchor="middle" >0</text>
<ellipse cx="56.900000000000006" cy="250.3" rx="10.5" ry="10.2" fill="#fff" stroke="#555" stroke-width="1.6"/>
<ellipse cx="56.900000000000006" cy="250.3" rx="10.5" ry="10.2" fill="none" stroke="#ddd" stroke-width="0.7"/>
<circle cx="64.4" cy="252.5" r="10.7" fill="#fff" stroke="#222" stroke-width="0.6"/>
<circle cx="64.4" cy="252.5" r="9.399999999999999" fill="none" stroke="#dcdcdc" stroke-width="2.0"/>
<circle cx="64.4" cy="252.5" r="8.1" fill="#fff" stroke="#222" stroke-width="0.6"/>
<path d="M59.99,244.20 A9.399999999999999,9.399999999999999 0 0 1 70.19,245.09" fill="none" stroke="#1f4f94" stroke-width="2.1"/>
<path d="M58.61,259.91 A9.399999999999999,9.399999999999999 0 0 1 55.01,252.83" fill="none" stroke="#e8c020" stroke-width="2.1"/>
<line x1="74" y1="259.6" x2="221" y2="259.6" stroke="#333" stroke-width="0.5"/>
<path d="M130.15,259.52 C131.83,259.28 137.19,258.78 140.20,258.11 C143.22,257.44 145.56,256.27 148.24,255.50 C150.92,254.73 154.27,253.92 156.28,253.49 C158.29,253.05 158.63,252.82 160.30,252.88 C161.98,252.95 163.65,253.69 166.33,253.89 C169.01,254.09 173.37,253.89 176.38,254.09 C179.40,254.29 181.41,254.59 184.42,255.10 C187.44,255.60 190.45,256.50 194.47,257.11 C198.49,257.71 204.29,258.35 208.54,258.71 C212.80,259.08 218.09,259.22 220.00,259.32 L220.0,259.6 L130.2,259.6 Z" fill="#a79fd8" fill-opacity="0.8" stroke="#333" stroke-width="0.35"/>
<path d="M114.07,259.52 C115.41,259.28 119.43,258.61 122.11,258.11 C124.79,257.61 127.47,257.07 130.15,256.50 C132.83,255.93 135.51,255.56 138.19,254.69 C140.87,253.82 143.82,252.11 146.23,251.28 C148.64,250.44 150.65,250.14 152.66,249.67 C154.67,249.20 156.68,248.40 158.29,248.46 C159.90,248.53 160.80,248.86 162.31,250.07 C163.82,251.28 165.33,254.36 167.34,255.70 C169.35,257.04 171.86,257.51 174.37,258.11 C176.88,258.71 181.07,259.12 182.41,259.32 L182.4,259.6 L114.1,259.6 Z" fill="#ea9858" fill-opacity="0.8" stroke="#333" stroke-width="0.35"/>
<path d="M110.05,259.52 C111.22,259.18 115.08,258.04 117.09,257.51 C119.10,256.97 120.27,256.57 122.11,256.30 C123.95,256.03 126.13,256.20 128.14,255.90 C130.15,255.60 132.16,255.40 134.17,254.49 C136.18,253.59 138.36,251.68 140.20,250.47 C142.04,249.27 143.89,247.93 145.23,247.26 C146.57,246.59 147.00,246.25 148.24,246.45 C149.48,246.65 151.16,247.39 152.66,248.46 C154.17,249.53 155.68,251.68 157.29,252.88 C158.89,254.09 160.47,254.89 162.31,255.70 C164.15,256.50 166.00,257.14 168.34,257.71 C170.69,258.28 175.04,258.88 176.38,259.12 L176.4,259.6 L110.1,259.6 Z" fill="#7fd1b5" fill-opacity="0.7" stroke="#333" stroke-width="0.35"/>
<path d="M130.15,259.52 C131.83,259.28 137.19,258.78 140.20,258.11 C143.22,257.44 145.56,256.27 148.24,255.50 C150.92,254.73 154.27,253.92 156.28,253.49 C158.29,253.05 158.63,252.82 160.30,252.88 C161.98,252.95 163.65,253.69 166.33,253.89 C169.01,254.09 173.37,253.89 176.38,254.09 C179.40,254.29 181.41,254.59 184.42,255.10 C187.44,255.60 190.45,256.50 194.47,257.11 C198.49,257.71 204.29,258.35 208.54,258.71 C212.80,259.08 218.09,259.22 220.00,259.32 L220.0,259.6 L130.2,259.6 Z" fill="#a79fd8" fill-opacity="0.35" stroke="#333" stroke-width="0.35"/>
<text x="141.3" y="272.9" font-size="4.7" fill="#111" font-weight="bold" text-anchor="middle" textLength="138" lengthAdjust="spacingAndGlyphs" stroke="#111" stroke-width="0.14">Difference of area under the strain curve between MAS and MI segments</text>
<text x="147.8" y="280.0" font-size="3.5" fill="#222" text-anchor="middle" textLength="62.5" lengthAdjust="spacingAndGlyphs"><tspan font-style="italic">Pairwise test: </tspan><tspan font-weight="bold" font-style="italic">Dunn</tspan><tspan font-style="italic">, Bars shown: </tspan><tspan font-weight="bold">significant</tspan></text>
<line x1="89.0" y1="283" x2="89.0" y2="329" stroke="#e6e6ee" stroke-width="0.4"/>
<line x1="139.4" y1="283" x2="139.4" y2="329" stroke="#e6e6ee" stroke-width="0.4"/>
<line x1="190.6" y1="283" x2="190.6" y2="329" stroke="#e6e6ee" stroke-width="0.4"/>
<line x1="66" y1="290.6" x2="201" y2="290.6" stroke="#ececf2" stroke-width="0.4"/>
<line x1="66" y1="306.1" x2="201" y2="306.1" stroke="#ececf2" stroke-width="0.4"/>
<line x1="66" y1="320.9" x2="201" y2="320.9" stroke="#ececf2" stroke-width="0.4"/>
<circle cx="145.9" cy="291.0" r="1.05" fill="#8f86c9" fill-opacity="0.5"/>
<circle cx="158.2" cy="289.5" r="1.05" fill="#8f86c9" fill-opacity="0.5"/>
<circle cx="135.1" cy="289.5" r="1.05" fill="#8f86c9" fill-opacity="0.5"/>
<circle cx="146.6" cy="290.6" r="1.05" fill="#8f86c9" fill-opacity="0.5"/>
<circle cx="166.6" cy="289.5" r="1.05" fill="#8f86c9" fill-opacity="0.5"/>
<circle cx="154.0" cy="289.5" r="1.05" fill="#8f86c9" fill-opacity="0.5"/>
<circle cx="123.3" cy="289.6" r="1.05" fill="#8f86c9" fill-opacity="0.5"/>
<circle cx="163.7" cy="289.9" r="1.05" fill="#8f86c9" fill-opacity="0.5"/>
<circle cx="122.9" cy="290.8" r="1.05" fill="#8f86c9" fill-opacity="0.5"/>
<circle cx="122.1" cy="290.3" r="1.05" fill="#8f86c9" fill-opacity="0.5"/>
<circle cx="154.9" cy="291.5" r="1.05" fill="#8f86c9" fill-opacity="0.5"/>
<circle cx="149.3" cy="290.1" r="1.05" fill="#8f86c9" fill-opacity="0.5"/>
<circle cx="154.9" cy="290.1" r="1.05" fill="#8f86c9" fill-opacity="0.5"/>
<circle cx="156.3" cy="291.4" r="1.05" fill="#8f86c9" fill-opacity="0.5"/>
<circle cx="158.9" cy="291.0" r="1.05" fill="#8f86c9" fill-opacity="0.5"/>
<circle cx="169.2" cy="290.3" r="1.05" fill="#8f86c9" fill-opacity="0.5"/>
<circle cx="144.5" cy="289.5" r="1.05" fill="#8f86c9" fill-opacity="0.5"/>
<circle cx="148.3" cy="289.8" r="1.05" fill="#8f86c9" fill-opacity="0.5"/>
<circle cx="142.8" cy="290.1" r="1.05" fill="#8f86c9" fill-opacity="0.5"/>
<circle cx="134.7" cy="290.8" r="1.05" fill="#8f86c9" fill-opacity="0.5"/>
<circle cx="137.1" cy="291.4" r="1.05" fill="#8f86c9" fill-opacity="0.5"/>
<circle cx="153.9" cy="291.1" r="1.05" fill="#8f86c9" fill-opacity="0.5"/>
<circle cx="150.8" cy="290.7" r="1.05" fill="#8f86c9" fill-opacity="0.5"/>
<circle cx="170.9" cy="291.6" r="1.05" fill="#8f86c9" fill-opacity="0.5"/>
<circle cx="148.3" cy="291.8" r="1.05" fill="#8f86c9" fill-opacity="0.5"/>
<circle cx="136.9" cy="289.6" r="1.05" fill="#8f86c9" fill-opacity="0.5"/>
<circle cx="126.6" cy="289.7" r="1.05" fill="#8f86c9" fill-opacity="0.5"/>
<circle cx="163.2" cy="290.6" r="1.05" fill="#8f86c9" fill-opacity="0.5"/>
<circle cx="173.0" cy="291.3" r="1.05" fill="#8f86c9" fill-opacity="0.5"/>
<circle cx="155.8" cy="290.8" r="1.05" fill="#8f86c9" fill-opacity="0.5"/>
<circle cx="159.8" cy="291.1" r="1.05" fill="#8f86c9" fill-opacity="0.5"/>
<circle cx="140.2" cy="290.8" r="1.05" fill="#8f86c9" fill-opacity="0.5"/>
<circle cx="134.5" cy="291.5" r="1.05" fill="#8f86c9" fill-opacity="0.5"/>
<circle cx="141.5" cy="291.8" r="1.05" fill="#8f86c9" fill-opacity="0.5"/>
<circle cx="187.3" cy="290.20000000000005" r="0.8" fill="#8f86c9" fill-opacity="0.6"/>
<circle cx="196.2" cy="290.20000000000005" r="0.8" fill="#8f86c9" fill-opacity="0.6"/>
<circle cx="198.6" cy="290.20000000000005" r="0.8" fill="#8f86c9" fill-opacity="0.6"/>
<circle cx="120.0" cy="304.5" r="1.05" fill="#e0762a" fill-opacity="0.55"/>
<circle cx="142.1" cy="306.8" r="1.05" fill="#e0762a" fill-opacity="0.55"/>
<circle cx="114.3" cy="307.3" r="1.05" fill="#e0762a" fill-opacity="0.55"/>
<circle cx="131.6" cy="305.7" r="1.05" fill="#e0762a" fill-opacity="0.55"/>
<circle cx="137.6" cy="306.0" r="1.05" fill="#e0762a" fill-opacity="0.55"/>
<circle cx="136.6" cy="304.9" r="1.05" fill="#e0762a" fill-opacity="0.55"/>
<circle cx="142.4" cy="307.1" r="1.05" fill="#e0762a" fill-opacity="0.55"/>
<circle cx="142.0" cy="304.8" r="1.05" fill="#e0762a" fill-opacity="0.55"/>
<circle cx="139.2" cy="307.4" r="1.05" fill="#e0762a" fill-opacity="0.55"/>
<circle cx="151.9" cy="304.6" r="1.05" fill="#e0762a" fill-opacity="0.55"/>
<circle cx="123.4" cy="307.5" r="1.05" fill="#e0762a" fill-opacity="0.55"/>
<circle cx="144.2" cy="307.2" r="1.05" fill="#e0762a" fill-opacity="0.55"/>
<circle cx="145.9" cy="305.8" r="1.05" fill="#e0762a" fill-opacity="0.55"/>
<circle cx="131.1" cy="305.6" r="1.05" fill="#e0762a" fill-opacity="0.55"/>
<circle cx="163.4" cy="304.8" r="1.05" fill="#e0762a" fill-opacity="0.55"/>
<circle cx="117.3" cy="304.9" r="1.05" fill="#e0762a" fill-opacity="0.55"/>
<circle cx="140.1" cy="306.0" r="1.05" fill="#e0762a" fill-opacity="0.55"/>
<circle cx="148.4" cy="306.4" r="1.05" fill="#e0762a" fill-opacity="0.55"/>
<circle cx="138.9" cy="305.8" r="1.05" fill="#e0762a" fill-opacity="0.55"/>
<circle cx="140.2" cy="305.6" r="1.05" fill="#e0762a" fill-opacity="0.55"/>
<circle cx="156.8" cy="306.2" r="1.05" fill="#e0762a" fill-opacity="0.55"/>
<circle cx="126.0" cy="306.5" r="1.05" fill="#e0762a" fill-opacity="0.55"/>
<circle cx="137.1" cy="307.5" r="1.05" fill="#e0762a" fill-opacity="0.55"/>
<circle cx="135.1" cy="307.1" r="1.05" fill="#e0762a" fill-opacity="0.55"/>
<circle cx="155.4" cy="305.7" r="1.05" fill="#e0762a" fill-opacity="0.55"/>
<circle cx="122.5" cy="305.7" r="1.05" fill="#e0762a" fill-opacity="0.55"/>
<circle cx="153.7" cy="304.5" r="1.05" fill="#e0762a" fill-opacity="0.55"/>
<circle cx="150.2" cy="304.5" r="1.05" fill="#e0762a" fill-opacity="0.55"/>
<circle cx="141.0" cy="305.5" r="1.05" fill="#e0762a" fill-opacity="0.55"/>
<circle cx="146.5" cy="304.5" r="1.05" fill="#e0762a" fill-opacity="0.55"/>
<circle cx="146.4" cy="304.7" r="1.05" fill="#e0762a" fill-opacity="0.55"/>
<circle cx="139.0" cy="305.6" r="1.05" fill="#e0762a" fill-opacity="0.55"/>
<circle cx="165.1" cy="306.5" r="1.05" fill="#e0762a" fill-opacity="0.55"/>
<circle cx="143.2" cy="304.8" r="1.05" fill="#e0762a" fill-opacity="0.55"/>
<circle cx="138.8" cy="305.6" r="1.05" fill="#e0762a" fill-opacity="0.55"/>
<circle cx="151.0" cy="304.7" r="1.05" fill="#e0762a" fill-opacity="0.55"/>
<circle cx="162.9" cy="306.0" r="1.05" fill="#e0762a" fill-opacity="0.55"/>
<circle cx="144.0" cy="304.6" r="1.05" fill="#e0762a" fill-opacity="0.55"/>
<circle cx="148.5" cy="305.3" r="1.05" fill="#e0762a" fill-opacity="0.55"/>
<circle cx="146.1" cy="307.3" r="1.05" fill="#e0762a" fill-opacity="0.55"/>
<circle cx="140.5" cy="307.7" r="1.05" fill="#e0762a" fill-opacity="0.55"/>
<circle cx="141.4" cy="306.2" r="1.05" fill="#e0762a" fill-opacity="0.55"/>
<circle cx="148.8" cy="304.4" r="1.05" fill="#e0762a" fill-opacity="0.55"/>
<circle cx="152.0" cy="306.2" r="1.05" fill="#e0762a" fill-opacity="0.55"/>
<circle cx="164.7" cy="306.8" r="1.05" fill="#e0762a" fill-opacity="0.55"/>
<circle cx="135.5" cy="305.2" r="1.05" fill="#e0762a" fill-opacity="0.55"/>
<circle cx="133.7" cy="307.1" r="1.05" fill="#e0762a" fill-opacity="0.55"/>
<circle cx="144.8" cy="306.2" r="1.05" fill="#e0762a" fill-opacity="0.55"/>
<circle cx="141.1" cy="305.1" r="1.05" fill="#e0762a" fill-opacity="0.55"/>
<circle cx="127.6" cy="307.2" r="1.05" fill="#e0762a" fill-opacity="0.55"/>
<circle cx="164.3" cy="307.2" r="1.05" fill="#e0762a" fill-opacity="0.55"/>
<circle cx="136.6" cy="307.2" r="1.05" fill="#e0762a" fill-opacity="0.55"/>
<circle cx="138.4" cy="306.2" r="1.05" fill="#e0762a" fill-opacity="0.55"/>
<circle cx="129.7" cy="305.6" r="1.05" fill="#e0762a" fill-opacity="0.55"/>
<circle cx="142.0" cy="305.3" r="1.05" fill="#e0762a" fill-opacity="0.55"/>
<circle cx="139.6" cy="305.2" r="1.05" fill="#e0762a" fill-opacity="0.55"/>
<circle cx="127.5" cy="305.9" r="1.05" fill="#e0762a" fill-opacity="0.55"/>
<circle cx="172.1" cy="307.9" r="1.05" fill="#e0762a" fill-opacity="0.55"/>
<circle cx="150.9" cy="305.1" r="1.05" fill="#e0762a" fill-opacity="0.55"/>
<circle cx="135.5" cy="305.1" r="1.05" fill="#e0762a" fill-opacity="0.55"/>
<circle cx="141.9" cy="306.5" r="1.05" fill="#e0762a" fill-opacity="0.55"/>
<circle cx="147.3" cy="307.5" r="1.05" fill="#e0762a" fill-opacity="0.55"/>
<circle cx="147.0" cy="306.7" r="1.05" fill="#e0762a" fill-opacity="0.55"/>
<circle cx="126.5" cy="307.2" r="1.05" fill="#e0762a" fill-opacity="0.55"/>
<circle cx="155.5" cy="307.6" r="1.05" fill="#e0762a" fill-opacity="0.55"/>
<circle cx="148.7" cy="307.1" r="1.05" fill="#e0762a" fill-opacity="0.55"/>
<circle cx="139.0" cy="304.9" r="1.05" fill="#e0762a" fill-opacity="0.55"/>
<circle cx="124.2" cy="307.1" r="1.05" fill="#e0762a" fill-opacity="0.55"/>
<circle cx="127.4" cy="307.8" r="1.05" fill="#e0762a" fill-opacity="0.55"/>
<circle cx="159.3" cy="305.7" r="1.05" fill="#e0762a" fill-opacity="0.55"/>
<circle cx="158.9" cy="304.9" r="1.05" fill="#e0762a" fill-opacity="0.55"/>
<circle cx="157.3" cy="304.8" r="1.05" fill="#e0762a" fill-opacity="0.55"/>
<circle cx="155.4" cy="307.2" r="1.05" fill="#e0762a" fill-opacity="0.55"/>
<circle cx="161.9" cy="304.8" r="1.05" fill="#e0762a" fill-opacity="0.55"/>
<circle cx="155.8" cy="306.7" r="1.05" fill="#e0762a" fill-opacity="0.55"/>
<circle cx="135.7" cy="306.3" r="1.05" fill="#e0762a" fill-opacity="0.55"/>
<circle cx="140.5" cy="307.8" r="1.05" fill="#e0762a" fill-opacity="0.55"/>
<circle cx="140.6" cy="306.6" r="1.05" fill="#e0762a" fill-opacity="0.55"/>
<circle cx="140.9" cy="307.4" r="1.05" fill="#e0762a" fill-opacity="0.55"/>
<circle cx="134.0" cy="307.3" r="1.05" fill="#e0762a" fill-opacity="0.55"/>
<circle cx="141.4" cy="305.4" r="1.05" fill="#e0762a" fill-opacity="0.55"/>
<circle cx="148.6" cy="305.2" r="1.05" fill="#e0762a" fill-opacity="0.55"/>
<circle cx="130.4" cy="305.8" r="1.05" fill="#e0762a" fill-opacity="0.55"/>
<circle cx="133.8" cy="304.8" r="1.05" fill="#e0762a" fill-opacity="0.55"/>
<circle cx="149.3" cy="305.9" r="1.05" fill="#e0762a" fill-opacity="0.55"/>
<circle cx="132.5" cy="306.4" r="1.05" fill="#e0762a" fill-opacity="0.55"/>
<circle cx="150.2" cy="307.6" r="1.05" fill="#e0762a" fill-opacity="0.55"/>
<circle cx="131.3" cy="306.1" r="1.05" fill="#e0762a" fill-opacity="0.55"/>
<circle cx="123.5" cy="304.4" r="1.05" fill="#e0762a" fill-opacity="0.55"/>
<circle cx="135.9" cy="305.9" r="1.05" fill="#e0762a" fill-opacity="0.55"/>
<circle cx="139.5" cy="307.2" r="1.05" fill="#e0762a" fill-opacity="0.55"/>
<circle cx="140.1" cy="304.9" r="1.05" fill="#e0762a" fill-opacity="0.55"/>
<circle cx="118.4" cy="306.3" r="1.05" fill="#e0762a" fill-opacity="0.55"/>
<circle cx="142.5" cy="305.5" r="1.05" fill="#e0762a" fill-opacity="0.55"/>
<circle cx="122.6" cy="307.1" r="1.05" fill="#e0762a" fill-opacity="0.55"/>
<circle cx="137.1" cy="304.7" r="1.05" fill="#e0762a" fill-opacity="0.55"/>
<circle cx="129.9" cy="305.3" r="1.05" fill="#e0762a" fill-opacity="0.55"/>
<circle cx="135.4" cy="307.1" r="1.05" fill="#e0762a" fill-opacity="0.55"/>
<circle cx="122.3" cy="307.0" r="1.05" fill="#e0762a" fill-opacity="0.55"/>
<circle cx="138.2" cy="307.6" r="1.05" fill="#e0762a" fill-opacity="0.55"/>
<circle cx="122.2" cy="306.1" r="1.05" fill="#e0762a" fill-opacity="0.55"/>
<circle cx="145.2" cy="306.1" r="1.05" fill="#e0762a" fill-opacity="0.55"/>
<circle cx="134.0" cy="306.2" r="1.05" fill="#e0762a" fill-opacity="0.55"/>
<circle cx="125.6" cy="306.0" r="1.05" fill="#e0762a" fill-opacity="0.55"/>
<circle cx="157.8" cy="307.5" r="1.05" fill="#e0762a" fill-opacity="0.55"/>
<circle cx="131.8" cy="307.7" r="1.05" fill="#e0762a" fill-opacity="0.55"/>
<circle cx="103.5" cy="306.1" r="0.8" fill="#e0762a" fill-opacity="0.7"/>
<circle cx="179.5" cy="306.1" r="0.8" fill="#e0762a" fill-opacity="0.7"/>
<circle cx="131.2" cy="322.5" r="1.05" fill="#2aa77a" fill-opacity="0.55"/>
<circle cx="146.1" cy="322.1" r="1.05" fill="#2aa77a" fill-opacity="0.55"/>
<circle cx="135.6" cy="320.7" r="1.05" fill="#2aa77a" fill-opacity="0.55"/>
<circle cx="136.3" cy="319.4" r="1.05" fill="#2aa77a" fill-opacity="0.55"/>
<circle cx="132.3" cy="321.5" r="1.05" fill="#2aa77a" fill-opacity="0.55"/>
<circle cx="136.3" cy="321.9" r="1.05" fill="#2aa77a" fill-opacity="0.55"/>
<circle cx="137.1" cy="321.7" r="1.05" fill="#2aa77a" fill-opacity="0.55"/>
<circle cx="128.2" cy="321.5" r="1.05" fill="#2aa77a" fill-opacity="0.55"/>
<circle cx="146.2" cy="322.6" r="1.05" fill="#2aa77a" fill-opacity="0.55"/>
<circle cx="149.8" cy="319.9" r="1.05" fill="#2aa77a" fill-opacity="0.55"/>
<circle cx="142.6" cy="320.9" r="1.05" fill="#2aa77a" fill-opacity="0.55"/>
<circle cx="128.7" cy="322.7" r="1.05" fill="#2aa77a" fill-opacity="0.55"/>
<circle cx="135.2" cy="320.7" r="1.05" fill="#2aa77a" fill-opacity="0.55"/>
<circle cx="126.3" cy="321.0" r="1.05" fill="#2aa77a" fill-opacity="0.55"/>
<circle cx="128.1" cy="320.2" r="1.05" fill="#2aa77a" fill-opacity="0.55"/>
<circle cx="138.2" cy="321.7" r="1.05" fill="#2aa77a" fill-opacity="0.55"/>
<circle cx="145.9" cy="320.7" r="1.05" fill="#2aa77a" fill-opacity="0.55"/>
<circle cx="133.7" cy="319.2" r="1.05" fill="#2aa77a" fill-opacity="0.55"/>
<circle cx="124.5" cy="320.9" r="1.05" fill="#2aa77a" fill-opacity="0.55"/>
<circle cx="145.4" cy="319.3" r="1.05" fill="#2aa77a" fill-opacity="0.55"/>
<circle cx="151.3" cy="322.6" r="1.05" fill="#2aa77a" fill-opacity="0.55"/>
<circle cx="130.2" cy="319.5" r="1.05" fill="#2aa77a" fill-opacity="0.55"/>
<circle cx="131.7" cy="321.9" r="1.05" fill="#2aa77a" fill-opacity="0.55"/>
<circle cx="135.1" cy="320.1" r="1.05" fill="#2aa77a" fill-opacity="0.55"/>
<circle cx="139.9" cy="322.4" r="1.05" fill="#2aa77a" fill-opacity="0.55"/>
<circle cx="140.4" cy="322.0" r="1.05" fill="#2aa77a" fill-opacity="0.55"/>
<circle cx="131.7" cy="322.4" r="1.05" fill="#2aa77a" fill-opacity="0.55"/>
<circle cx="138.2" cy="321.2" r="1.05" fill="#2aa77a" fill-opacity="0.55"/>
<circle cx="130.5" cy="319.3" r="1.05" fill="#2aa77a" fill-opacity="0.55"/>
<circle cx="127.5" cy="321.6" r="1.05" fill="#2aa77a" fill-opacity="0.55"/>
<circle cx="128.2" cy="322.5" r="1.05" fill="#2aa77a" fill-opacity="0.55"/>
<circle cx="133.9" cy="321.4" r="1.05" fill="#2aa77a" fill-opacity="0.55"/>
<circle cx="133.5" cy="322.2" r="1.05" fill="#2aa77a" fill-opacity="0.55"/>
<circle cx="127.6" cy="319.3" r="1.05" fill="#2aa77a" fill-opacity="0.55"/>
<circle cx="139.9" cy="320.3" r="1.05" fill="#2aa77a" fill-opacity="0.55"/>
<circle cx="122.8" cy="321.1" r="1.05" fill="#2aa77a" fill-opacity="0.55"/>
<circle cx="139.8" cy="319.6" r="1.05" fill="#2aa77a" fill-opacity="0.55"/>
<circle cx="128.1" cy="321.0" r="1.05" fill="#2aa77a" fill-opacity="0.55"/>
<circle cx="132.4" cy="319.7" r="1.05" fill="#2aa77a" fill-opacity="0.55"/>
<circle cx="137.3" cy="319.3" r="1.05" fill="#2aa77a" fill-opacity="0.55"/>
<circle cx="134.8" cy="320.2" r="1.05" fill="#2aa77a" fill-opacity="0.55"/>
<circle cx="141.1" cy="321.8" r="1.05" fill="#2aa77a" fill-opacity="0.55"/>
<circle cx="128.8" cy="319.7" r="1.05" fill="#2aa77a" fill-opacity="0.55"/>
<circle cx="144.5" cy="320.3" r="1.05" fill="#2aa77a" fill-opacity="0.55"/>
<circle cx="140.3" cy="319.2" r="1.05" fill="#2aa77a" fill-opacity="0.55"/>
<circle cx="133.0" cy="321.7" r="1.05" fill="#2aa77a" fill-opacity="0.55"/>
<circle cx="125.2" cy="320.8" r="1.05" fill="#2aa77a" fill-opacity="0.55"/>
<circle cx="129.8" cy="322.5" r="1.05" fill="#2aa77a" fill-opacity="0.55"/>
<circle cx="148.0" cy="320.7" r="1.05" fill="#2aa77a" fill-opacity="0.55"/>
<circle cx="144.6" cy="320.9" r="1.05" fill="#2aa77a" fill-opacity="0.55"/>
<circle cx="137.6" cy="320.9" r="1.05" fill="#2aa77a" fill-opacity="0.55"/>
<circle cx="122.5" cy="321.6" r="1.05" fill="#2aa77a" fill-opacity="0.55"/>
<circle cx="142.0" cy="322.1" r="1.05" fill="#2aa77a" fill-opacity="0.55"/>
<circle cx="130.9" cy="321.6" r="1.05" fill="#2aa77a" fill-opacity="0.55"/>
<circle cx="124.6" cy="320.4" r="1.05" fill="#2aa77a" fill-opacity="0.55"/>
<circle cx="123.6" cy="319.3" r="1.05" fill="#2aa77a" fill-opacity="0.55"/>
<circle cx="134.9" cy="321.8" r="1.05" fill="#2aa77a" fill-opacity="0.55"/>
<circle cx="135.1" cy="320.0" r="1.05" fill="#2aa77a" fill-opacity="0.55"/>
<circle cx="134.4" cy="322.1" r="1.05" fill="#2aa77a" fill-opacity="0.55"/>
<circle cx="136.0" cy="322.2" r="1.05" fill="#2aa77a" fill-opacity="0.55"/>
<circle cx="127.7" cy="320.0" r="1.05" fill="#2aa77a" fill-opacity="0.55"/>
<circle cx="124.1" cy="320.2" r="1.05" fill="#2aa77a" fill-opacity="0.55"/>
<circle cx="125.8" cy="320.7" r="1.05" fill="#2aa77a" fill-opacity="0.55"/>
<circle cx="133.6" cy="320.0" r="1.05" fill="#2aa77a" fill-opacity="0.55"/>
<circle cx="136.4" cy="320.0" r="1.05" fill="#2aa77a" fill-opacity="0.55"/>
<circle cx="125.0" cy="322.6" r="1.05" fill="#2aa77a" fill-opacity="0.55"/>
<circle cx="128.2" cy="319.1" r="1.05" fill="#2aa77a" fill-opacity="0.55"/>
<circle cx="141.6" cy="320.5" r="1.05" fill="#2aa77a" fill-opacity="0.55"/>
<circle cx="119.2" cy="319.8" r="1.05" fill="#2aa77a" fill-opacity="0.55"/>
<circle cx="134.1" cy="320.9" r="1.05" fill="#2aa77a" fill-opacity="0.55"/>
<circle cx="140.6" cy="319.4" r="1.05" fill="#2aa77a" fill-opacity="0.55"/>
<circle cx="132.3" cy="320.5" r="1.05" fill="#2aa77a" fill-opacity="0.55"/>
<circle cx="134.3" cy="320.2" r="1.05" fill="#2aa77a" fill-opacity="0.55"/>
<circle cx="132.6" cy="319.9" r="1.05" fill="#2aa77a" fill-opacity="0.55"/>
<circle cx="120.4" cy="321.8" r="1.05" fill="#2aa77a" fill-opacity="0.55"/>
<circle cx="125.1" cy="321.5" r="1.05" fill="#2aa77a" fill-opacity="0.55"/>
<circle cx="127.2" cy="320.5" r="1.05" fill="#2aa77a" fill-opacity="0.55"/>
<circle cx="109.9" cy="320.3" r="1.05" fill="#2aa77a" fill-opacity="0.55"/>
<circle cx="138.2" cy="321.7" r="1.05" fill="#2aa77a" fill-opacity="0.55"/>
<circle cx="131.4" cy="321.4" r="1.05" fill="#2aa77a" fill-opacity="0.55"/>
<circle cx="152.1" cy="322.3" r="1.05" fill="#2aa77a" fill-opacity="0.55"/>
<circle cx="137.7" cy="321.4" r="1.05" fill="#2aa77a" fill-opacity="0.55"/>
<circle cx="130.0" cy="319.6" r="1.05" fill="#2aa77a" fill-opacity="0.55"/>
<circle cx="112.0" cy="321.0" r="1.05" fill="#2aa77a" fill-opacity="0.55"/>
<circle cx="111.1" cy="322.0" r="1.05" fill="#2aa77a" fill-opacity="0.55"/>
<circle cx="131.4" cy="322.1" r="1.05" fill="#2aa77a" fill-opacity="0.55"/>
<circle cx="111.9" cy="321.6" r="1.05" fill="#2aa77a" fill-opacity="0.55"/>
<circle cx="120.3" cy="321.6" r="1.05" fill="#2aa77a" fill-opacity="0.55"/>
<circle cx="132.3" cy="319.6" r="1.05" fill="#2aa77a" fill-opacity="0.55"/>
<circle cx="134.7" cy="320.4" r="1.05" fill="#2aa77a" fill-opacity="0.55"/>
<circle cx="148.5" cy="321.1" r="1.05" fill="#2aa77a" fill-opacity="0.55"/>
<circle cx="144.8" cy="321.4" r="1.05" fill="#2aa77a" fill-opacity="0.55"/>
<circle cx="120.3" cy="320.9" r="1.05" fill="#2aa77a" fill-opacity="0.55"/>
<circle cx="120.2" cy="319.1" r="1.05" fill="#2aa77a" fill-opacity="0.55"/>
<circle cx="137.4" cy="320.9" r="1.05" fill="#2aa77a" fill-opacity="0.55"/>
<circle cx="114.5" cy="321.0" r="1.05" fill="#2aa77a" fill-opacity="0.55"/>
<circle cx="129.8" cy="321.8" r="1.05" fill="#2aa77a" fill-opacity="0.55"/>
<circle cx="128.6" cy="320.0" r="1.05" fill="#2aa77a" fill-opacity="0.55"/>
<circle cx="139.7" cy="321.7" r="1.05" fill="#2aa77a" fill-opacity="0.55"/>
<circle cx="135.9" cy="319.8" r="1.05" fill="#2aa77a" fill-opacity="0.55"/>
<circle cx="130.1" cy="320.9" r="1.05" fill="#2aa77a" fill-opacity="0.55"/>
<circle cx="127.9" cy="320.8" r="1.05" fill="#2aa77a" fill-opacity="0.55"/>
<circle cx="124.4" cy="321.3" r="1.05" fill="#2aa77a" fill-opacity="0.55"/>
<circle cx="114.8" cy="321.4" r="1.05" fill="#2aa77a" fill-opacity="0.55"/>
<circle cx="137.5" cy="320.0" r="1.05" fill="#2aa77a" fill-opacity="0.55"/>
<circle cx="134.9" cy="321.8" r="1.05" fill="#2aa77a" fill-opacity="0.55"/>
<circle cx="127.2" cy="319.1" r="1.05" fill="#2aa77a" fill-opacity="0.55"/>
<circle cx="145.4" cy="319.3" r="1.05" fill="#2aa77a" fill-opacity="0.55"/>
<circle cx="130.1" cy="321.6" r="1.05" fill="#2aa77a" fill-opacity="0.55"/>
<circle cx="148.3" cy="321.5" r="1.05" fill="#2aa77a" fill-opacity="0.55"/>
<circle cx="128.6" cy="320.8" r="1.05" fill="#2aa77a" fill-opacity="0.55"/>
<circle cx="144.8" cy="320.8" r="1.05" fill="#2aa77a" fill-opacity="0.55"/>
<circle cx="149.1" cy="319.8" r="1.05" fill="#2aa77a" fill-opacity="0.55"/>
<circle cx="147.8" cy="322.6" r="1.05" fill="#2aa77a" fill-opacity="0.55"/>
<circle cx="133.9" cy="320.8" r="1.05" fill="#2aa77a" fill-opacity="0.55"/>
<circle cx="131.2" cy="322.1" r="1.05" fill="#2aa77a" fill-opacity="0.55"/>
<circle cx="143.8" cy="320.1" r="1.05" fill="#2aa77a" fill-opacity="0.55"/>
<circle cx="129.6" cy="319.9" r="1.05" fill="#2aa77a" fill-opacity="0.55"/>
<circle cx="139.1" cy="321.2" r="1.05" fill="#2aa77a" fill-opacity="0.55"/>
<circle cx="70.3" cy="320.5" r="0.8" fill="#2aa77a" fill-opacity="0.7"/>
<circle cx="91" cy="320.9" r="0.8" fill="#2aa77a" fill-opacity="0.7"/>
<circle cx="98" cy="321.4" r="0.8" fill="#2aa77a" fill-opacity="0.7"/>
<circle cx="104" cy="320.5" r="0.8" fill="#2aa77a" fill-opacity="0.7"/>
<circle cx="163" cy="321.3" r="0.8" fill="#2aa77a" fill-opacity="0.7"/>
<circle cx="168" cy="320.9" r="0.8" fill="#2aa77a" fill-opacity="0.7"/>
<circle cx="177.3" cy="321.4" r="0.8" fill="#2aa77a" fill-opacity="0.7"/>
<line x1="115.4" y1="290.6" x2="178.6" y2="290.6" stroke="#555" stroke-width="0.5"/>
<rect x="142.2" y="288.5" width="18.3" height="4.2" fill="#fff" fill-opacity="0.5" stroke="#5a5a5a" stroke-width="0.45"/>
<line x1="151.4" y1="288.5" x2="151.4" y2="292.70000000000005" stroke="#333" stroke-width="0.7"/>
<line x1="118" y1="306.1" x2="166" y2="306.1" stroke="#555" stroke-width="0.5"/>
<rect x="130.7" y="304.0" width="14.1" height="4.2" fill="#fff" fill-opacity="0.5" stroke="#5a5a5a" stroke-width="0.45"/>
<line x1="138.6" y1="304.0" x2="138.6" y2="308.20000000000005" stroke="#333" stroke-width="0.7"/>
<line x1="112" y1="320.9" x2="156" y2="320.9" stroke="#555" stroke-width="0.5"/>
<rect x="126.3" y="318.79999999999995" width="12.0" height="4.2" fill="#fff" fill-opacity="0.5" stroke="#5a5a5a" stroke-width="0.45"/>
<line x1="132.4" y1="318.79999999999995" x2="132.4" y2="323.0" stroke="#333" stroke-width="0.7"/>
<circle cx="152.5" cy="290.6" r="1.95" fill="#8b1010"/>
<circle cx="139.8" cy="306.1" r="1.95" fill="#8b1010"/>
<circle cx="133.3" cy="320.9" r="1.95" fill="#8b1010"/>
<rect x="142.0" y="283.0" width="21.2" height="4.5" rx="0.5" fill="#fff" stroke="#555" stroke-width="0.45"/>
<text x="143.2" y="286.25" font-size="3.3" fill="#111"><tspan font-style="italic">μ̂</tspan><tspan font-size="2.046" dy="0.7">mean</tspan><tspan dy="-0.7"> = 259.21</tspan></text>
<rect x="130.3" y="297.5" width="18.8" height="5.0" rx="0.5" fill="#fff" stroke="#555" stroke-width="0.45"/>
<text x="131.5" y="301.25" font-size="3.3" fill="#111"><tspan font-style="italic">μ̂</tspan><tspan font-size="2.046" dy="0.7">mean</tspan><tspan dy="-0.7"> = 57.90</tspan></text>
<rect x="121.8" y="312.3" width="23.6" height="4.9" rx="0.5" fill="#fff" stroke="#555" stroke-width="0.45"/>
<text x="123.0" y="315.95" font-size="3.3" fill="#111"><tspan font-style="italic">μ̂</tspan><tspan font-size="2.046" dy="0.7">mean</tspan><tspan dy="-0.7"> = -128.74</tspan></text>
<text x="89.0" y="333.4" font-size="2.7" fill="#444" font-weight="normal" text-anchor="middle" >-1000</text>
<text x="139.4" y="333.4" font-size="2.7" fill="#444" font-weight="normal" text-anchor="middle" >0</text>
<text x="190.6" y="333.4" font-size="2.7" fill="#444" font-weight="normal" text-anchor="middle" >1000</text>
<text x="147.3" y="337.6" font-size="3.7" fill="#111" font-weight="bold" text-anchor="middle" textLength="71.5" lengthAdjust="spacingAndGlyphs" stroke="#111" stroke-width="0.1">Difference of area under the strain curve (cm2)</text>
<text x="48.0" y="290.4" font-size="2.7" fill="#000" font-weight="bold" text-anchor="middle" textLength="26.5" lengthAdjust="spacingAndGlyphs" stroke="#000" stroke-width="0.12">2 Sustained flattening of</text>
<text x="48.0" y="293.4" font-size="2.7" fill="#000" font-weight="bold" text-anchor="middle" textLength="7.2" lengthAdjust="spacingAndGlyphs" stroke="#000" stroke-width="0.12">septum</text>
<text x="48.0" y="296.4" font-size="2.7" fill="#000" font-weight="bold" text-anchor="middle" textLength="7.0" lengthAdjust="spacingAndGlyphs" stroke="#000" stroke-width="0.12">n = 30</text>
<text x="48.0" y="305.9" font-size="2.7" fill="#000" font-weight="bold" text-anchor="middle" textLength="26.0" lengthAdjust="spacingAndGlyphs" stroke="#000" stroke-width="0.12">1 Transient flattening of</text>
<text x="48.0" y="308.9" font-size="2.7" fill="#000" font-weight="bold" text-anchor="middle" textLength="7.2" lengthAdjust="spacingAndGlyphs" stroke="#000" stroke-width="0.12">septum</text>
<text x="48.0" y="311.9" font-size="2.7" fill="#000" font-weight="bold" text-anchor="middle" textLength="8.0" lengthAdjust="spacingAndGlyphs" stroke="#000" stroke-width="0.12">n = 106</text>
<text x="48.0" y="321.6" font-size="2.7" fill="#000" font-weight="bold" text-anchor="middle" textLength="24.0" lengthAdjust="spacingAndGlyphs" stroke="#000" stroke-width="0.12">0 Normal Septal Motion</text>
<text x="48.0" y="324.6" font-size="2.7" fill="#000" font-weight="bold" text-anchor="middle" textLength="8.0" lengthAdjust="spacingAndGlyphs" stroke="#000" stroke-width="0.12">n = 119</text>
<path d="M203.5,305.5 H205.1 V320.9 H203.5" fill="none" stroke="#333" stroke-width="0.5"/>
<text transform="translate(207.7,313.2) rotate(90)" font-size="3.3" fill="#111" stroke="#111" stroke-width="0.08" text-anchor="middle" font-style="italic" font-weight="bold">p<tspan font-size="2.3" dy="0.6">Holm-adj.</tspan><tspan dy="-0.6" font-style="normal"> = 2.07e-05</tspan></text>
<path d="M214.1,290.0 H215.7 V320.9 H214.1" fill="none" stroke="#333" stroke-width="0.5"/>
<text transform="translate(218.0,306.0) rotate(90)" font-size="3.3" fill="#111" stroke="#111" stroke-width="0.08" text-anchor="middle" font-style="italic" font-weight="bold">p<tspan font-size="2.3" dy="0.6">Holm-adj.</tspan><tspan dy="-0.6" font-style="normal"> = 1.99e-13</tspan></text>
<path d="M223.9,291.40000000000003 H225.5 V305.40000000000003 H223.9" fill="none" stroke="#333" stroke-width="0.5"/>
<text transform="translate(227.79999999999998,297.8) rotate(90)" font-size="3.3" fill="#111" stroke="#111" stroke-width="0.08" text-anchor="middle" font-style="italic" font-weight="bold">p<tspan font-size="2.3" dy="0.6">Holm-adj.</tspan><tspan dy="-0.6" font-style="normal"> = 3.93e-06</tspan></text>
<ellipse cx="312.5" cy="251.4" rx="10.8" ry="10.5" fill="#fff" stroke="#555" stroke-width="1.6"/>
<ellipse cx="312.5" cy="251.4" rx="10.8" ry="10.5" fill="none" stroke="#ddd" stroke-width="0.7"/>
<circle cx="320.0" cy="253.6" r="11.0" fill="#fff" stroke="#222" stroke-width="0.6"/>
<circle cx="320.0" cy="253.6" r="9.7" fill="none" stroke="#dcdcdc" stroke-width="2.0"/>
<circle cx="320.0" cy="253.6" r="8.4" fill="#fff" stroke="#222" stroke-width="0.6"/>
<path d="M316.37,244.61 A9.7,9.7 0 0 1 328.99,249.97" fill="none" stroke="#1f4f94" stroke-width="2.1"/>
<path d="M310.30,253.60 A9.7,9.7 0 0 1 314.86,245.37" fill="none" stroke="#f08878" stroke-width="2.1"/>
<line x1="330" y1="259.2" x2="494" y2="259.2" stroke="#333" stroke-width="0.5"/>
<path d="M384.36,259.22 C385.44,259.04 388.89,258.68 390.89,258.13 C392.88,257.59 394.70,256.57 396.33,255.95 C397.97,255.34 399.42,254.65 400.69,254.43 C401.96,254.21 402.68,254.32 403.95,254.65 C405.23,254.97 406.50,255.77 408.31,256.39 C410.12,257.01 412.30,257.88 414.84,258.35 C417.38,258.82 422.10,259.08 423.55,259.22 L423.6,259.2 L384.4,259.2 Z" fill="#7fd1b5" fill-opacity="0.8" stroke="#333" stroke-width="0.35"/>
<path d="M393.07,259.22 C393.97,258.97 396.88,258.60 398.51,257.70 C400.14,256.79 401.60,255.01 402.87,253.78 C404.14,252.54 405.04,251.24 406.13,250.29 C407.22,249.35 408.31,248.15 409.40,248.11 C410.49,248.08 411.58,249.13 412.67,250.07 C413.75,251.02 414.84,252.72 415.93,253.78 C417.02,254.83 417.93,255.66 419.20,256.39 C420.47,257.12 421.38,257.66 423.55,258.13 C425.73,258.60 430.81,259.04 432.26,259.22 L432.3,259.2 L393.1,259.2 Z" fill="#ea9858" fill-opacity="0.85" stroke="#333" stroke-width="0.35"/>
<path d="M393.07,259.22 C394.52,259.04 398.87,258.53 401.78,258.13 C404.68,257.73 407.58,257.12 410.49,256.83 C413.39,256.54 415.93,256.39 419.20,256.39 C422.47,256.39 425.73,256.64 430.09,256.83 C434.44,257.01 439.16,257.23 445.33,257.48 C451.50,257.73 459.12,258.06 467.11,258.35 C475.09,258.64 488.89,259.08 493.24,259.22 L493.2,259.2 L393.1,259.2 Z" fill="#a79fd8" fill-opacity="0.6" stroke="#333" stroke-width="0.35"/>
<text x="404.0" y="274.6" font-size="4.6" fill="#111" font-weight="bold" text-anchor="middle" textLength="118" lengthAdjust="spacingAndGlyphs" stroke="#111" stroke-width="0.14">Time difference between Time-to-peak of MIS and MI segments</text>
<text x="409.6" y="280.3" font-size="3.5" fill="#222" text-anchor="middle" textLength="70" lengthAdjust="spacingAndGlyphs">Pairwise test: <tspan font-weight="bold">Dunn</tspan>, Bars shown: <tspan font-weight="bold">significant</tspan></text>
<line x1="347.7" y1="283" x2="347.7" y2="327" stroke="#e6e6ee" stroke-width="0.4"/>
<line x1="399.5" y1="283" x2="399.5" y2="327" stroke="#e6e6ee" stroke-width="0.4"/>
<line x1="451.6" y1="283" x2="451.6" y2="327" stroke="#e6e6ee" stroke-width="0.4"/>
<line x1="322" y1="290.3" x2="466" y2="290.3" stroke="#ececf2" stroke-width="0.4"/>
<line x1="322" y1="305.7" x2="466" y2="305.7" stroke="#ececf2" stroke-width="0.4"/>
<line x1="322" y1="319.7" x2="466" y2="319.7" stroke="#ececf2" stroke-width="0.4"/>
<circle cx="326" cy="290.3" r="0.8" fill="#8f86c9" fill-opacity="0.6"/>
<circle cx="415.8" cy="290.6" r="0.75" fill="#8f86c9" fill-opacity="0.55"/>
<circle cx="424.5" cy="290.3" r="0.75" fill="#8f86c9" fill-opacity="0.55"/>
<circle cx="458.2" cy="289.6" r="0.75" fill="#8f86c9" fill-opacity="0.55"/>
<circle cx="440.9" cy="290.2" r="0.75" fill="#8f86c9" fill-opacity="0.55"/>
<circle cx="420.5" cy="290.0" r="0.75" fill="#8f86c9" fill-opacity="0.55"/>
<circle cx="430.5" cy="290.0" r="0.75" fill="#8f86c9" fill-opacity="0.55"/>
<circle cx="432.8" cy="290.8" r="0.75" fill="#8f86c9" fill-opacity="0.55"/>
<circle cx="450.0" cy="290.8" r="0.75" fill="#8f86c9" fill-opacity="0.55"/>
<circle cx="420.3" cy="289.8" r="0.75" fill="#8f86c9" fill-opacity="0.55"/>
<circle cx="445.5" cy="290.9" r="0.75" fill="#8f86c9" fill-opacity="0.55"/>
<circle cx="407.3" cy="290.0" r="0.75" fill="#8f86c9" fill-opacity="0.55"/>
<circle cx="407.5" cy="291.0" r="0.75" fill="#8f86c9" fill-opacity="0.55"/>
<circle cx="432.9" cy="290.4" r="0.75" fill="#8f86c9" fill-opacity="0.55"/>
<circle cx="407.8" cy="290.0" r="0.75" fill="#8f86c9" fill-opacity="0.55"/>
<circle cx="434.6" cy="289.7" r="0.75" fill="#8f86c9" fill-opacity="0.55"/>
<circle cx="447.4" cy="290.0" r="0.75" fill="#8f86c9" fill-opacity="0.55"/>
<circle cx="440.4" cy="290.9" r="0.75" fill="#8f86c9" fill-opacity="0.55"/>
<circle cx="420.1" cy="290.3" r="0.75" fill="#8f86c9" fill-opacity="0.55"/>
<circle cx="434.1" cy="289.9" r="0.75" fill="#8f86c9" fill-opacity="0.55"/>
<circle cx="456.6" cy="290.7" r="0.75" fill="#8f86c9" fill-opacity="0.55"/>
<circle cx="452.2" cy="290.5" r="0.75" fill="#8f86c9" fill-opacity="0.55"/>
<circle cx="456.6" cy="290.4" r="0.75" fill="#8f86c9" fill-opacity="0.55"/>
<circle cx="446.1" cy="289.7" r="0.75" fill="#8f86c9" fill-opacity="0.55"/>
<circle cx="417.8" cy="290.7" r="0.75" fill="#8f86c9" fill-opacity="0.55"/>
<circle cx="400.4" cy="290.5" r="0.75" fill="#8f86c9" fill-opacity="0.55"/>
<circle cx="418.7" cy="290.9" r="0.75" fill="#8f86c9" fill-opacity="0.55"/>
<circle cx="334.6" cy="305.7" r="0.8" fill="#e0762a" fill-opacity="0.75"/>
<circle cx="365" cy="305.7" r="0.8" fill="#e0762a" fill-opacity="0.75"/>
<circle cx="384.7" cy="305.7" r="0.8" fill="#e0762a" fill-opacity="0.75"/>
<circle cx="406.8" cy="304.7" r="0.95" fill="#e0762a" fill-opacity="0.65"/>
<circle cx="395.9" cy="305.2" r="0.95" fill="#e0762a" fill-opacity="0.65"/>
<circle cx="405.4" cy="306.3" r="0.95" fill="#e0762a" fill-opacity="0.65"/>
<circle cx="410.9" cy="306.1" r="0.95" fill="#e0762a" fill-opacity="0.65"/>
<circle cx="403.0" cy="305.2" r="0.95" fill="#e0762a" fill-opacity="0.65"/>
<circle cx="395.6" cy="304.8" r="0.95" fill="#e0762a" fill-opacity="0.65"/>
<circle cx="400.8" cy="304.8" r="0.95" fill="#e0762a" fill-opacity="0.65"/>
<circle cx="409.1" cy="305.7" r="0.95" fill="#e0762a" fill-opacity="0.65"/>
<circle cx="422.9" cy="305.0" r="0.95" fill="#e0762a" fill-opacity="0.65"/>
<circle cx="429.2" cy="305.6" r="0.95" fill="#e0762a" fill-opacity="0.65"/>
<circle cx="397.4" cy="304.9" r="0.95" fill="#e0762a" fill-opacity="0.65"/>
<circle cx="410.9" cy="304.6" r="0.95" fill="#e0762a" fill-opacity="0.65"/>
<circle cx="408.4" cy="305.0" r="0.95" fill="#e0762a" fill-opacity="0.65"/>
<circle cx="403.4" cy="306.7" r="0.95" fill="#e0762a" fill-opacity="0.65"/>
<circle cx="415.7" cy="306.3" r="0.95" fill="#e0762a" fill-opacity="0.65"/>
<circle cx="396.1" cy="305.8" r="0.95" fill="#e0762a" fill-opacity="0.65"/>
<circle cx="408.8" cy="305.4" r="0.95" fill="#e0762a" fill-opacity="0.65"/>
<circle cx="402.3" cy="305.1" r="0.95" fill="#e0762a" fill-opacity="0.65"/>
<circle cx="406.7" cy="306.9" r="0.95" fill="#e0762a" fill-opacity="0.65"/>
<circle cx="411.5" cy="306.0" r="0.95" fill="#e0762a" fill-opacity="0.65"/>
<circle cx="411.6" cy="306.6" r="0.95" fill="#e0762a" fill-opacity="0.65"/>
<circle cx="405.5" cy="305.0" r="0.95" fill="#e0762a" fill-opacity="0.65"/>
<circle cx="411.0" cy="305.4" r="0.95" fill="#e0762a" fill-opacity="0.65"/>
<circle cx="435.0" cy="306.7" r="0.95" fill="#e0762a" fill-opacity="0.65"/>
<circle cx="411.5" cy="304.5" r="0.95" fill="#e0762a" fill-opacity="0.65"/>
<circle cx="417.9" cy="306.7" r="0.95" fill="#e0762a" fill-opacity="0.65"/>
<circle cx="406.8" cy="305.6" r="0.95" fill="#e0762a" fill-opacity="0.65"/>
<circle cx="403.9" cy="305.4" r="0.95" fill="#e0762a" fill-opacity="0.65"/>
<circle cx="403.9" cy="306.8" r="0.95" fill="#e0762a" fill-opacity="0.65"/>
<circle cx="412.1" cy="306.9" r="0.95" fill="#e0762a" fill-opacity="0.65"/>
<circle cx="403.2" cy="304.7" r="0.95" fill="#e0762a" fill-opacity="0.65"/>
<circle cx="410.2" cy="306.2" r="0.95" fill="#e0762a" fill-opacity="0.65"/>
<circle cx="413.0" cy="306.8" r="0.95" fill="#e0762a" fill-opacity="0.65"/>
<circle cx="401.7" cy="306.4" r="0.95" fill="#e0762a" fill-opacity="0.65"/>
<circle cx="391.2" cy="305.6" r="0.95" fill="#e0762a" fill-opacity="0.65"/>
<circle cx="401.6" cy="306.4" r="0.95" fill="#e0762a" fill-opacity="0.65"/>
<circle cx="403.2" cy="305.0" r="0.95" fill="#e0762a" fill-opacity="0.65"/>
<circle cx="415.4" cy="305.2" r="0.95" fill="#e0762a" fill-opacity="0.65"/>
<circle cx="397.7" cy="304.7" r="0.95" fill="#e0762a" fill-opacity="0.65"/>
<circle cx="403.9" cy="306.2" r="0.95" fill="#e0762a" fill-opacity="0.65"/>
<circle cx="416.8" cy="304.7" r="0.95" fill="#e0762a" fill-opacity="0.65"/>
<circle cx="413.9" cy="305.9" r="0.95" fill="#e0762a" fill-opacity="0.65"/>
<circle cx="408.7" cy="305.4" r="0.95" fill="#e0762a" fill-opacity="0.65"/>
<circle cx="406.0" cy="304.4" r="0.95" fill="#e0762a" fill-opacity="0.65"/>
<circle cx="416.0" cy="305.2" r="0.95" fill="#e0762a" fill-opacity="0.65"/>
<circle cx="424.2" cy="306.7" r="0.95" fill="#e0762a" fill-opacity="0.65"/>
<circle cx="409.6" cy="305.6" r="0.95" fill="#e0762a" fill-opacity="0.65"/>
<circle cx="404.6" cy="306.9" r="0.95" fill="#e0762a" fill-opacity="0.65"/>
<circle cx="410.7" cy="306.2" r="0.95" fill="#e0762a" fill-opacity="0.65"/>
<circle cx="403.3" cy="305.7" r="0.95" fill="#e0762a" fill-opacity="0.65"/>
<circle cx="405.8" cy="306.2" r="0.95" fill="#e0762a" fill-opacity="0.65"/>
<circle cx="397.9" cy="306.1" r="0.95" fill="#e0762a" fill-opacity="0.65"/>
<circle cx="407.3" cy="306.8" r="0.95" fill="#e0762a" fill-opacity="0.65"/>
<circle cx="404.3" cy="305.3" r="0.95" fill="#e0762a" fill-opacity="0.65"/>
<circle cx="406.3" cy="305.5" r="0.95" fill="#e0762a" fill-opacity="0.65"/>
<circle cx="401.5" cy="306.5" r="0.95" fill="#e0762a" fill-opacity="0.65"/>
<circle cx="398.5" cy="306.3" r="0.95" fill="#e0762a" fill-opacity="0.65"/>
<circle cx="397.9" cy="306.9" r="0.95" fill="#e0762a" fill-opacity="0.65"/>
<circle cx="403.8" cy="305.2" r="0.95" fill="#e0762a" fill-opacity="0.65"/>
<circle cx="406.8" cy="305.0" r="0.95" fill="#e0762a" fill-opacity="0.65"/>
<circle cx="398.1" cy="306.4" r="0.95" fill="#e0762a" fill-opacity="0.65"/>
<circle cx="397.8" cy="305.7" r="0.95" fill="#e0762a" fill-opacity="0.65"/>
<circle cx="425.3" cy="304.9" r="0.95" fill="#e0762a" fill-opacity="0.65"/>
<circle cx="405.6" cy="306.1" r="0.95" fill="#e0762a" fill-opacity="0.65"/>
<circle cx="413.2" cy="306.9" r="0.95" fill="#e0762a" fill-opacity="0.65"/>
<circle cx="409.5" cy="305.0" r="0.95" fill="#e0762a" fill-opacity="0.65"/>
<circle cx="411.2" cy="306.9" r="0.95" fill="#e0762a" fill-opacity="0.65"/>
<circle cx="405.8" cy="304.6" r="0.95" fill="#e0762a" fill-opacity="0.65"/>
<circle cx="406.3" cy="305.4" r="0.95" fill="#e0762a" fill-opacity="0.65"/>
<circle cx="419.0" cy="306.3" r="0.95" fill="#e0762a" fill-opacity="0.65"/>
<circle cx="392.9" cy="307.0" r="0.95" fill="#e0762a" fill-opacity="0.65"/>
<circle cx="411.3" cy="304.9" r="0.95" fill="#e0762a" fill-opacity="0.65"/>
<circle cx="400.6" cy="306.8" r="0.95" fill="#e0762a" fill-opacity="0.65"/>
<circle cx="403.9" cy="306.1" r="0.95" fill="#e0762a" fill-opacity="0.65"/>
<circle cx="401.7" cy="305.4" r="0.95" fill="#e0762a" fill-opacity="0.65"/>
<circle cx="398.3" cy="304.8" r="0.95" fill="#e0762a" fill-opacity="0.65"/>
<circle cx="409.8" cy="304.4" r="0.95" fill="#e0762a" fill-opacity="0.65"/>
<circle cx="402.4" cy="306.9" r="0.95" fill="#e0762a" fill-opacity="0.65"/>
<circle cx="412.2" cy="304.7" r="0.95" fill="#e0762a" fill-opacity="0.65"/>
<circle cx="410.0" cy="305.3" r="0.95" fill="#e0762a" fill-opacity="0.65"/>
<circle cx="402.6" cy="306.5" r="0.95" fill="#e0762a" fill-opacity="0.65"/>
<circle cx="408.2" cy="304.5" r="0.95" fill="#e0762a" fill-opacity="0.65"/>
<circle cx="395.4" cy="305.6" r="0.95" fill="#e0762a" fill-opacity="0.65"/>
<circle cx="400.2" cy="305.3" r="0.95" fill="#e0762a" fill-opacity="0.65"/>
<circle cx="418.5" cy="306.7" r="0.95" fill="#e0762a" fill-opacity="0.65"/>
<circle cx="425.5" cy="305.6" r="0.7" fill="#e0762a" fill-opacity="0.7"/>
<circle cx="439.6" cy="306.1" r="0.7" fill="#e0762a" fill-opacity="0.7"/>
<circle cx="425.7" cy="305.0" r="0.7" fill="#e0762a" fill-opacity="0.7"/>
<circle cx="426.1" cy="306.3" r="0.7" fill="#e0762a" fill-opacity="0.7"/>
<circle cx="429.6" cy="306.0" r="0.7" fill="#e0762a" fill-opacity="0.7"/>
<circle cx="441.2" cy="305.5" r="0.7" fill="#e0762a" fill-opacity="0.7"/>
<circle cx="429.9" cy="306.3" r="0.7" fill="#e0762a" fill-opacity="0.7"/>
<circle cx="436.1" cy="305.4" r="0.7" fill="#e0762a" fill-opacity="0.7"/>
<circle cx="437.9" cy="305.4" r="0.7" fill="#e0762a" fill-opacity="0.7"/>
<circle cx="430.0" cy="305.0" r="0.7" fill="#e0762a" fill-opacity="0.7"/>
<circle cx="438.6" cy="306.3" r="0.7" fill="#e0762a" fill-opacity="0.7"/>
<circle cx="436.4" cy="306.3" r="0.7" fill="#e0762a" fill-opacity="0.7"/>
<circle cx="425.4" cy="305.3" r="0.7" fill="#e0762a" fill-opacity="0.7"/>
<circle cx="433.6" cy="306.3" r="0.7" fill="#e0762a" fill-opacity="0.7"/>
<circle cx="394.6" cy="319.5" r="0.85" fill="#2aa77a" fill-opacity="0.55"/>
<circle cx="343.3" cy="319.6" r="0.85" fill="#2aa77a" fill-opacity="0.55"/>
<circle cx="361.0" cy="320.5" r="0.85" fill="#2aa77a" fill-opacity="0.55"/>
<circle cx="338.4" cy="320.2" r="0.85" fill="#2aa77a" fill-opacity="0.55"/>
<circle cx="378.9" cy="320.3" r="0.85" fill="#2aa77a" fill-opacity="0.55"/>
<circle cx="381.4" cy="319.9" r="0.85" fill="#2aa77a" fill-opacity="0.55"/>
<circle cx="348.9" cy="319.4" r="0.85" fill="#2aa77a" fill-opacity="0.55"/>
<circle cx="351.4" cy="320.2" r="0.85" fill="#2aa77a" fill-opacity="0.55"/>
<circle cx="330.8" cy="319.2" r="0.85" fill="#2aa77a" fill-opacity="0.55"/>
<circle cx="380.0" cy="319.2" r="0.85" fill="#2aa77a" fill-opacity="0.55"/>
<circle cx="329.7" cy="318.9" r="0.85" fill="#2aa77a" fill-opacity="0.55"/>
<circle cx="365.3" cy="319.4" r="0.85" fill="#2aa77a" fill-opacity="0.55"/>
<circle cx="396.6" cy="320.4" r="0.85" fill="#2aa77a" fill-opacity="0.55"/>
<circle cx="397.1" cy="319.3" r="0.85" fill="#2aa77a" fill-opacity="0.55"/>
<circle cx="331.1" cy="319.0" r="0.85" fill="#2aa77a" fill-opacity="0.55"/>
<circle cx="361.4" cy="320.1" r="0.85" fill="#2aa77a" fill-opacity="0.55"/>
<circle cx="357.6" cy="319.2" r="0.85" fill="#2aa77a" fill-opacity="0.55"/>
<circle cx="355.4" cy="319.9" r="0.85" fill="#2aa77a" fill-opacity="0.55"/>
<circle cx="374.2" cy="320.1" r="0.85" fill="#2aa77a" fill-opacity="0.55"/>
<circle cx="386.8" cy="320.0" r="0.85" fill="#2aa77a" fill-opacity="0.55"/>
<circle cx="333.8" cy="320.3" r="0.85" fill="#2aa77a" fill-opacity="0.55"/>
<circle cx="346.4" cy="319.8" r="0.85" fill="#2aa77a" fill-opacity="0.55"/>
<circle cx="352.2" cy="320.1" r="0.85" fill="#2aa77a" fill-opacity="0.55"/>
<circle cx="339.5" cy="319.2" r="0.85" fill="#2aa77a" fill-opacity="0.55"/>
<circle cx="342.9" cy="319.1" r="0.85" fill="#2aa77a" fill-opacity="0.55"/>
<circle cx="389.5" cy="319.8" r="0.85" fill="#2aa77a" fill-opacity="0.55"/>
<circle cx="348.8" cy="319.5" r="0.85" fill="#2aa77a" fill-opacity="0.55"/>
<circle cx="397.4" cy="319.7" r="0.85" fill="#2aa77a" fill-opacity="0.55"/>
<circle cx="341.9" cy="320.3" r="0.85" fill="#2aa77a" fill-opacity="0.55"/>
<circle cx="372.7" cy="320.6" r="0.85" fill="#2aa77a" fill-opacity="0.55"/>
<circle cx="332.5" cy="319.7" r="0.85" fill="#2aa77a" fill-opacity="0.55"/>
<circle cx="384.8" cy="320.3" r="0.85" fill="#2aa77a" fill-opacity="0.55"/>
<circle cx="391.7" cy="318.9" r="0.85" fill="#2aa77a" fill-opacity="0.55"/>
<circle cx="346.4" cy="319.0" r="0.85" fill="#2aa77a" fill-opacity="0.55"/>
<circle cx="338.8" cy="320.6" r="0.85" fill="#2aa77a" fill-opacity="0.55"/>
<circle cx="367.6" cy="320.5" r="0.85" fill="#2aa77a" fill-opacity="0.55"/>
<circle cx="352.2" cy="320.4" r="0.85" fill="#2aa77a" fill-opacity="0.55"/>
<circle cx="357.8" cy="319.3" r="0.85" fill="#2aa77a" fill-opacity="0.55"/>
<circle cx="381.8" cy="320.5" r="0.85" fill="#2aa77a" fill-opacity="0.55"/>
<circle cx="332.7" cy="319.9" r="0.85" fill="#2aa77a" fill-opacity="0.55"/>
<circle cx="405.9" cy="319.0" r="0.95" fill="#2aa77a" fill-opacity="0.6"/>
<circle cx="401.9" cy="318.8" r="0.95" fill="#2aa77a" fill-opacity="0.6"/>
<circle cx="399.3" cy="319.1" r="0.95" fill="#2aa77a" fill-opacity="0.6"/>
<circle cx="405.6" cy="320.1" r="0.95" fill="#2aa77a" fill-opacity="0.6"/>
<circle cx="399.3" cy="318.4" r="0.95" fill="#2aa77a" fill-opacity="0.6"/>
<circle cx="401.2" cy="320.2" r="0.95" fill="#2aa77a" fill-opacity="0.6"/>
<circle cx="399.0" cy="319.2" r="0.95" fill="#2aa77a" fill-opacity="0.6"/>
<circle cx="399.3" cy="320.5" r="0.95" fill="#2aa77a" fill-opacity="0.6"/>
<circle cx="404.8" cy="318.6" r="0.95" fill="#2aa77a" fill-opacity="0.6"/>
<circle cx="397.6" cy="319.4" r="0.95" fill="#2aa77a" fill-opacity="0.6"/>
<circle cx="404.8" cy="320.1" r="0.95" fill="#2aa77a" fill-opacity="0.6"/>
<circle cx="397.5" cy="318.8" r="0.95" fill="#2aa77a" fill-opacity="0.6"/>
<circle cx="407.1" cy="319.5" r="0.95" fill="#2aa77a" fill-opacity="0.6"/>
<circle cx="400.5" cy="319.2" r="0.95" fill="#2aa77a" fill-opacity="0.6"/>
<circle cx="411.3" cy="319.2" r="0.95" fill="#2aa77a" fill-opacity="0.6"/>
<circle cx="405.1" cy="319.3" r="0.95" fill="#2aa77a" fill-opacity="0.6"/>
<circle cx="402.7" cy="320.6" r="0.95" fill="#2aa77a" fill-opacity="0.6"/>
<circle cx="411.9" cy="319.3" r="0.95" fill="#2aa77a" fill-opacity="0.6"/>
<circle cx="399.2" cy="320.3" r="0.95" fill="#2aa77a" fill-opacity="0.6"/>
<circle cx="399.3" cy="318.4" r="0.95" fill="#2aa77a" fill-opacity="0.6"/>
<circle cx="410.4" cy="319.5" r="0.95" fill="#2aa77a" fill-opacity="0.6"/>
<circle cx="409.1" cy="319.5" r="0.95" fill="#2aa77a" fill-opacity="0.6"/>
<circle cx="410.1" cy="319.6" r="0.95" fill="#2aa77a" fill-opacity="0.6"/>
<circle cx="398.6" cy="318.4" r="0.95" fill="#2aa77a" fill-opacity="0.6"/>
<circle cx="404.8" cy="320.1" r="0.95" fill="#2aa77a" fill-opacity="0.6"/>
<circle cx="410.6" cy="318.6" r="0.95" fill="#2aa77a" fill-opacity="0.6"/>
<circle cx="406.0" cy="319.4" r="0.95" fill="#2aa77a" fill-opacity="0.6"/>
<circle cx="404.1" cy="318.8" r="0.95" fill="#2aa77a" fill-opacity="0.6"/>
<circle cx="400.5" cy="319.8" r="0.95" fill="#2aa77a" fill-opacity="0.6"/>
<circle cx="410.8" cy="318.7" r="0.95" fill="#2aa77a" fill-opacity="0.6"/>
<circle cx="403.8" cy="320.5" r="0.95" fill="#2aa77a" fill-opacity="0.6"/>
<circle cx="411.5" cy="318.9" r="0.95" fill="#2aa77a" fill-opacity="0.6"/>
<circle cx="398.0" cy="320.9" r="0.95" fill="#2aa77a" fill-opacity="0.6"/>
<circle cx="411.6" cy="319.7" r="0.95" fill="#2aa77a" fill-opacity="0.6"/>
<circle cx="396.9" cy="320.8" r="0.95" fill="#2aa77a" fill-opacity="0.6"/>
<circle cx="402.2" cy="320.8" r="0.95" fill="#2aa77a" fill-opacity="0.6"/>
<circle cx="405.9" cy="320.5" r="0.95" fill="#2aa77a" fill-opacity="0.6"/>
<circle cx="398.6" cy="320.4" r="0.95" fill="#2aa77a" fill-opacity="0.6"/>
<circle cx="399.6" cy="319.5" r="0.95" fill="#2aa77a" fill-opacity="0.6"/>
<circle cx="409.5" cy="320.6" r="0.95" fill="#2aa77a" fill-opacity="0.6"/>
<circle cx="398.9" cy="319.0" r="0.95" fill="#2aa77a" fill-opacity="0.6"/>
<circle cx="402.4" cy="319.7" r="0.95" fill="#2aa77a" fill-opacity="0.6"/>
<circle cx="402.1" cy="318.7" r="0.95" fill="#2aa77a" fill-opacity="0.6"/>
<circle cx="400.0" cy="320.3" r="0.95" fill="#2aa77a" fill-opacity="0.6"/>
<circle cx="410.4" cy="318.5" r="0.95" fill="#2aa77a" fill-opacity="0.6"/>
<circle cx="405.0" cy="320.4" r="0.95" fill="#2aa77a" fill-opacity="0.6"/>
<circle cx="396.6" cy="320.6" r="0.95" fill="#2aa77a" fill-opacity="0.6"/>
<circle cx="397.9" cy="320.0" r="0.95" fill="#2aa77a" fill-opacity="0.6"/>
<circle cx="404.8" cy="320.0" r="0.95" fill="#2aa77a" fill-opacity="0.6"/>
<circle cx="400.9" cy="319.5" r="0.95" fill="#2aa77a" fill-opacity="0.6"/>
<circle cx="405.3" cy="319.5" r="0.95" fill="#2aa77a" fill-opacity="0.6"/>
<circle cx="406.5" cy="319.6" r="0.95" fill="#2aa77a" fill-opacity="0.6"/>
<circle cx="403.0" cy="318.5" r="0.95" fill="#2aa77a" fill-opacity="0.6"/>
<circle cx="405.9" cy="319.7" r="0.95" fill="#2aa77a" fill-opacity="0.6"/>
<circle cx="399.8" cy="320.4" r="0.95" fill="#2aa77a" fill-opacity="0.6"/>
<circle cx="408.5" cy="319.6" r="0.95" fill="#2aa77a" fill-opacity="0.6"/>
<circle cx="398.9" cy="319.6" r="0.95" fill="#2aa77a" fill-opacity="0.6"/>
<circle cx="397.7" cy="318.7" r="0.95" fill="#2aa77a" fill-opacity="0.6"/>
<circle cx="402.9" cy="318.6" r="0.95" fill="#2aa77a" fill-opacity="0.6"/>
<circle cx="403.1" cy="319.7" r="0.95" fill="#2aa77a" fill-opacity="0.6"/>
<circle cx="414.7" cy="319.9" r="0.8" fill="#2aa77a" fill-opacity="0.6"/>
<circle cx="415.3" cy="320.0" r="0.8" fill="#2aa77a" fill-opacity="0.6"/>
<circle cx="426.4" cy="319.7" r="0.8" fill="#2aa77a" fill-opacity="0.6"/>
<circle cx="414.9" cy="319.7" r="0.8" fill="#2aa77a" fill-opacity="0.6"/>
<circle cx="420.0" cy="320.3" r="0.8" fill="#2aa77a" fill-opacity="0.6"/>
<circle cx="416.2" cy="320.2" r="0.8" fill="#2aa77a" fill-opacity="0.6"/>
<circle cx="429.9" cy="320.0" r="0.8" fill="#2aa77a" fill-opacity="0.6"/>
<circle cx="427.0" cy="319.3" r="0.8" fill="#2aa77a" fill-opacity="0.6"/>
<circle cx="429.7" cy="319.7" r="0.8" fill="#2aa77a" fill-opacity="0.6"/>
<circle cx="429.3" cy="320.3" r="0.8" fill="#2aa77a" fill-opacity="0.6"/>
<circle cx="416.6" cy="320.1" r="0.8" fill="#2aa77a" fill-opacity="0.6"/>
<circle cx="428.9" cy="319.1" r="0.8" fill="#2aa77a" fill-opacity="0.6"/>
<line x1="399.5" y1="290.3" x2="464.2" y2="290.3" stroke="#555" stroke-width="0.5"/>
<rect x="399.5" y="287.90000000000003" width="28.4" height="4.8" fill="#fff" fill-opacity="0.5" stroke="#5a5a5a" stroke-width="0.45"/>
<line x1="408.0" y1="287.90000000000003" x2="408.0" y2="292.7" stroke="#333" stroke-width="0.7"/>
<line x1="391" y1="305.7" x2="420" y2="305.7" stroke="#555" stroke-width="0.5"/>
<rect x="397.0" y="303.9" width="11.0" height="3.6" fill="#fff" fill-opacity="0.5" stroke="#5a5a5a" stroke-width="0.45"/>
<line x1="399.5" y1="303.9" x2="399.5" y2="307.5" stroke="#333" stroke-width="0.7"/>
<line x1="388" y1="319.7" x2="412" y2="319.7" stroke="#555" stroke-width="0.5"/>
<rect x="395.0" y="317.9" width="8.5" height="3.6" fill="#fff" fill-opacity="0.5" stroke="#5a5a5a" stroke-width="0.45"/>
<line x1="399.0" y1="317.9" x2="399.0" y2="321.5" stroke="#333" stroke-width="0.7"/>
<circle cx="408.7" cy="290.5" r="1.95" fill="#8b1010"/>
<circle cx="399.5" cy="305.7" r="1.95" fill="#8b1010"/>
<circle cx="398.9" cy="319.7" r="1.95" fill="#8b1010"/>
<rect x="398.9" y="284.7" width="20.3" height="4.6" rx="0.5" fill="#fff" stroke="#555" stroke-width="0.45"/>
<text x="400.09999999999997" y="288.05" font-size="3.3" fill="#111"><tspan font-style="italic">μ̂</tspan><tspan font-size="2.046" dy="0.7">median</tspan><tspan dy="-0.7"> = 3.88</tspan></text>
<rect x="388.4" y="297.7" width="21.4" height="4.6" rx="0.5" fill="#fff" stroke="#555" stroke-width="0.45"/>
<text x="389.59999999999997" y="301.05" font-size="3.3" fill="#111"><tspan font-style="italic">μ̂</tspan><tspan font-size="2.046" dy="0.7">median</tspan><tspan dy="-0.7"> = 0.00</tspan></text>
<rect x="388.4" y="311.8" width="21.4" height="4.6" rx="0.5" fill="#fff" stroke="#555" stroke-width="0.45"/>
<text x="389.59999999999997" y="315.15000000000003" font-size="3.3" fill="#111"><tspan font-style="italic">μ̂</tspan><tspan font-size="2.046" dy="0.7">median</tspan><tspan dy="-0.7"> = 0.00</tspan></text>
<text x="347.7" y="331.6" font-size="2.7" fill="#444" font-weight="normal" text-anchor="middle" >-20</text>
<text x="399.5" y="331.6" font-size="2.7" fill="#444" font-weight="normal" text-anchor="middle" >0</text>
<text x="451.6" y="331.6" font-size="2.7" fill="#444" font-weight="normal" text-anchor="middle" >20</text>
<text x="410.0" y="336.2" font-size="3.8" fill="#111" font-weight="bold" text-anchor="middle" textLength="52" lengthAdjust="spacingAndGlyphs" stroke="#111" stroke-width="0.1">Difference in % of cardiac cycle</text>
<text x="304.0" y="289.7" font-size="2.7" fill="#000" font-weight="bold" text-anchor="middle" textLength="26.5" lengthAdjust="spacingAndGlyphs" stroke="#000" stroke-width="0.12">2 Sustained flattening of</text>
<text x="304.0" y="292.7" font-size="2.7" fill="#000" font-weight="bold" text-anchor="middle" textLength="7.2" lengthAdjust="spacingAndGlyphs" stroke="#000" stroke-width="0.12">septum</text>
<text x="304.0" y="295.7" font-size="2.7" fill="#000" font-weight="bold" text-anchor="middle" textLength="7.0" lengthAdjust="spacingAndGlyphs" stroke="#000" stroke-width="0.12">n = 32</text>
<text x="304.0" y="304.9" font-size="2.7" fill="#000" font-weight="bold" text-anchor="middle" textLength="26.0" lengthAdjust="spacingAndGlyphs" stroke="#000" stroke-width="0.12">1 Transient flattening of</text>
<text x="304.0" y="307.9" font-size="2.7" fill="#000" font-weight="bold" text-anchor="middle" textLength="7.2" lengthAdjust="spacingAndGlyphs" stroke="#000" stroke-width="0.12">septum</text>
<text x="304.0" y="310.9" font-size="2.7" fill="#000" font-weight="bold" text-anchor="middle" textLength="8.0" lengthAdjust="spacingAndGlyphs" stroke="#000" stroke-width="0.12">n = 106</text>
<text x="304.0" y="321.3" font-size="2.7" fill="#000" font-weight="bold" text-anchor="middle" textLength="24.0" lengthAdjust="spacingAndGlyphs" stroke="#000" stroke-width="0.12">0 Normal Septal Motion</text>
<text x="304.0" y="324.3" font-size="2.7" fill="#000" font-weight="bold" text-anchor="middle" textLength="8.0" lengthAdjust="spacingAndGlyphs" stroke="#000" stroke-width="0.12">n = 130</text>
<path d="M471.09999999999997,305.3 H472.7 V320.3 H471.09999999999997" fill="none" stroke="#333" stroke-width="0.5"/>
<text transform="translate(475.0,312.2) rotate(90)" font-size="3.3" fill="#111" stroke="#111" stroke-width="0.08" text-anchor="middle" font-style="italic" font-weight="bold">p<tspan font-size="2.3" dy="0.6">Holm-adj.</tspan><tspan dy="-0.6" font-style="normal"> = 2.55e-06</tspan></text>
<path d="M481.79999999999995,289.90000000000003 H483.4 V320.3 H481.79999999999995" fill="none" stroke="#333" stroke-width="0.5"/>
<text transform="translate(485.3,305.3) rotate(90)" font-size="3.3" fill="#111" stroke="#111" stroke-width="0.08" text-anchor="middle" font-style="italic" font-weight="bold">p<tspan font-size="2.3" dy="0.6">Holm-adj.</tspan><tspan dy="-0.6" font-style="normal"> = 1.95e-14</tspan></text>
<path d="M491.9,291.3 H493.5 V305.2 H491.9" fill="none" stroke="#333" stroke-width="0.5"/>
<text transform="translate(495.90000000000003,298.0) rotate(90)" font-size="3.3" fill="#111" stroke="#111" stroke-width="0.08" text-anchor="middle" font-style="italic" font-weight="bold">p<tspan font-size="2.3" dy="0.6">Holm-adj.</tspan><tspan dy="-0.6" font-style="normal"> = 4.73e-03</tspan></text>
</svg>
</body></html>
